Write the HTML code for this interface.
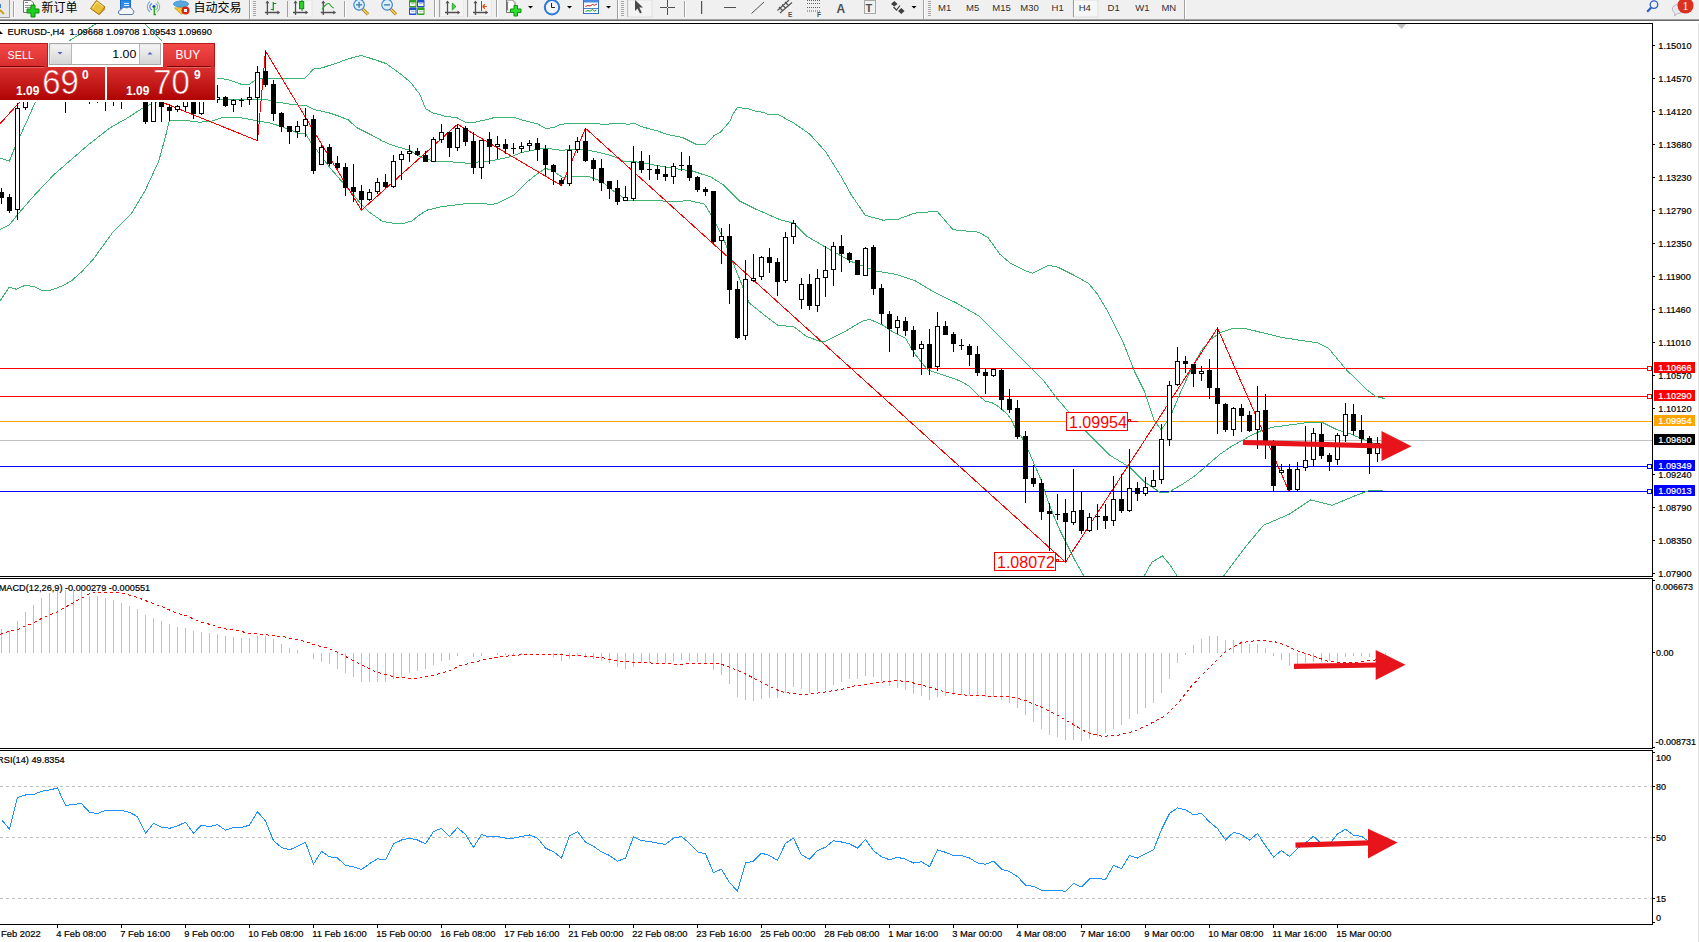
<!DOCTYPE html>
<html><head><meta charset="utf-8"><title>EURUSD-,H4</title>
<style>
html,body{margin:0;padding:0;background:#fff;}
body{width:1699px;height:942px;overflow:hidden;}
svg{display:block;}
</style></head>
<body>
<svg width="1699" height="942" viewBox="0 0 1699 942">
<defs>
<clipPath id="cmain"><rect x="0" y="24" width="1652" height="552"/></clipPath>
<clipPath id="cmacd"><rect x="0" y="579" width="1652" height="169"/></clipPath>
<clipPath id="crsi"><rect x="0" y="751" width="1652" height="173"/></clipPath>
<linearGradient id="gBtn" x1="0" y1="0" x2="0" y2="1"><stop offset="0" stop-color="#f44a4a"/><stop offset="1" stop-color="#d82c2c"/></linearGradient>
<linearGradient id="gPrice" gradientUnits="userSpaceOnUse" x1="0" y1="67" x2="0" y2="100"><stop offset="0" stop-color="#d93030"/><stop offset="1" stop-color="#b00404"/></linearGradient>
<linearGradient id="gSpin" x1="0" y1="0" x2="0" y2="1"><stop offset="0" stop-color="#f4f4f4"/><stop offset="1" stop-color="#d4d4d4"/></linearGradient>
<linearGradient id="gTb" x1="0" y1="0" x2="0" y2="1"><stop offset="0" stop-color="#f0f0f0"/><stop offset="1" stop-color="#f0f0f0"/></linearGradient>
</defs>
<rect x="0" y="0" width="1699" height="942" fill="#ffffff"/>
<g clip-path="url(#cmain)" shape-rendering="crispEdges">
<rect x="0" y="440" width="1652" height="1" fill="#c0c0c0"/>
<rect x="0" y="368" width="1647" height="1" fill="#ff0000"/>
<rect x="0" y="396" width="1647" height="1" fill="#ff0000"/>
<rect x="0" y="466" width="1647" height="1" fill="#0000ff"/>
<rect x="0" y="491" width="1647" height="1" fill="#0000ff"/>
<rect x="0" y="421" width="1652" height="1" fill="#ffa500"/>
<polyline points="0.0,158.0 9.3,161.2 15.2,146.7 21.0,133.9 28.0,118.7 35.0,102.8 50.0,75.0 69.3,40.8 100.0,21.3 142.0,21.0 161.9,40.8 190.0,62.0 216.5,78.0 227.8,79.5 241.0,84.2 249.5,84.2 256.0,79.5 265.5,78.0 305.0,78.0 313.5,69.1 322.0,67.8 337.0,63.0 348.4,58.8 361.5,55.4 374.7,59.7 386.0,63.5 399.2,72.9 410.5,82.3 420.0,94.6 425.6,108.7 433.4,113.2 438.8,114.4 445.0,116.4 456.7,117.6 465.2,122.2 473.7,122.5 484.3,120.1 494.9,117.4 514.0,117.4 522.5,120.1 537.4,123.8 545.9,128.6 553.8,127.5 560.2,124.3 572.9,123.3 589.9,123.3 603.7,124.3 621.7,123.3 628.1,124.3 634.5,123.3 640.8,126.5 656.8,130.7 667.4,134.4 682.6,137.5 696.3,144.4 705.6,144.4 714.2,135.5 720.1,132.5 723.1,129.2 730.5,120.6 732.0,115.8 737.2,107.6 741.3,107.5 742.4,108.4 747.6,108.5 755.8,111.3 764.0,112.5 768.4,114.5 778.0,114.5 793.8,123.0 809.7,134.1 825.6,151.7 841.5,177.1 851.1,194.6 865.4,215.4 882.9,220.1 897.3,219.5 914.8,213.1 937.1,211.2 953.0,229.7 978.5,232.2 988.0,237.6 1000.0,254.4 1010.8,263.5 1025.3,270.7 1032.5,273.2 1048.7,265.3 1057.8,267.1 1072.2,274.3 1088.4,283.3 1097.5,294.2 1108.3,312.2 1122.7,341.1 1134.6,371.6 1144.1,390.7 1153.7,419.4 1161.3,429.9 1170.9,415.5 1180.4,392.6 1191.9,367.8 1201.4,350.6 1211.0,339.1 1220.5,332.4 1232.0,328.6 1245.0,328.6 1252.7,330.3 1281.6,337.5 1317.7,342.9 1328.5,348.3 1346.6,370.0 1367.2,390.0 1375.6,396.4 1384.7,398.5" fill="none" stroke="#3cb371" stroke-width="1" />
<polyline points="0.0,229.7 9.3,225.0 18.7,213.3 35.0,194.6 53.7,174.8 70.0,160.7 88.8,144.4 109.8,128.0 126.2,118.7 142.5,108.2 149.5,104.7 160.0,101.0 216.5,99.3 265.5,99.3 276.8,102.1 291.9,104.4 306.9,105.9 314.5,109.6 329.5,113.0 339.0,116.2 348.4,120.0 356.4,127.4 369.2,133.8 381.9,140.8 392.1,145.2 401.0,147.8 409.9,150.3 420.0,156.7 429.0,159.9 437.6,161.5 452.5,162.0 471.6,163.6 478.0,162.0 486.4,161.5 498.1,159.4 510.9,156.7 521.5,152.5 537.4,149.3 546.4,148.2 561.2,150.3 575.0,149.3 587.8,150.1 603.7,153.5 614.3,156.7 624.9,162.0 632.4,161.2 646.2,163.6 667.4,167.3 680.0,169.4 691.8,170.8 711.0,177.1 723.7,185.1 739.6,201.0 755.5,209.0 781.0,220.1 793.8,223.3 806.5,236.0 825.6,247.2 851.1,261.5 876.6,271.1 895.7,274.3 914.8,280.6 930.7,290.2 956.2,302.9 978.5,315.7 994.4,331.6 1010.3,347.5 1029.4,366.6 1043.1,380.0 1055.8,397.0 1068.6,411.9 1081.3,426.7 1096.2,441.6 1110.0,455.4 1130.0,467.4 1144.4,482.0 1159.4,492.0 1169.0,492.0 1182.3,484.3 1193.8,476.7 1207.2,465.2 1220.5,453.8 1232.0,446.1 1247.7,437.3 1260.5,431.0 1273.2,427.1 1292.3,424.6 1311.4,422.0 1321.6,422.0 1336.9,429.7 1349.6,433.5 1361.8,438.8 1373.5,443.1 1384.0,446.0" fill="none" stroke="#3cb371" stroke-width="1" />
<polyline points="0.0,301.0 9.3,287.0 16.4,289.3 25.7,285.0 35.0,287.0 42.0,290.4 50.2,290.4 63.0,285.7 72.4,280.0 81.8,271.7 93.5,258.9 112.1,233.2 130.8,214.5 144.9,191.1 158.9,160.7 165.9,135.0 169.4,120.6 187.0,120.6 200.0,122.2 210.9,121.3 220.3,118.1 231.6,117.2 242.9,118.1 258.0,121.0 269.2,122.8 280.5,126.2 291.9,130.4 297.5,133.0 305.5,133.4 310.6,142.0 317.0,150.3 330.0,168.0 345.0,185.0 361.5,204.5 369.0,212.0 382.0,221.0 388.0,222.5 395.0,223.3 405.0,223.0 412.0,221.0 420.0,214.5 427.5,210.0 441.8,206.6 463.0,204.0 473.7,203.4 492.8,204.3 498.1,202.9 505.5,199.2 514.0,194.9 520.4,188.6 526.8,182.2 537.4,173.7 545.3,168.4 552.7,170.5 562.3,177.4 571.8,176.3 587.8,176.3 598.4,180.1 606.9,185.4 614.3,191.7 627.0,200.2 651.5,200.8 680.0,201.3 688.7,200.4 704.6,204.2 714.1,220.1 723.7,239.2 736.4,271.1 749.2,302.9 765.1,315.7 777.8,325.2 793.8,326.8 806.5,336.4 819.2,341.1 825.6,341.1 844.7,331.6 863.8,320.4 870.2,319.5 882.9,325.2 892.5,331.6 905.2,338.0 914.8,353.9 927.5,369.8 946.6,376.2 960.0,380.9 968.9,386.0 979.1,396.1 985.5,401.2 991.8,402.5 998.5,406.6 1007.0,414.0 1011.2,419.3 1015.5,428.9 1021.9,437.3 1028.2,450.1 1034.6,465.0 1041.0,479.8 1047.3,498.9 1053.7,515.9 1060.1,530.8 1066.5,543.5 1075.0,560.5 1083.5,575.4 1090.0,590.0 1135.0,590.0 1144.4,575.7 1152.0,562.0 1162.5,555.9 1170.0,565.0 1176.9,575.7 1185.0,590.0 1215.0,590.0 1223.8,575.7 1245.5,546.9 1263.5,525.2 1288.8,514.4 1310.5,500.0 1332.1,505.3 1353.8,496.3 1368.2,490.9 1382.7,490.2" fill="none" stroke="#3cb371" stroke-width="1" />
<polyline points="-20.0,146.0 57.5,60.0 257.5,140.7 265.5,51.1 361.5,210.2 457.5,124.3 561.5,185.6 585.5,128.3 1065.5,562.2 1217.5,328.0 1289.5,492.4" fill="none" stroke="#ff0000" stroke-width="1" />
<rect x="1" y="188" width="1" height="16" fill="#000"/>
<rect x="-1" y="192" width="5" height="6" fill="#000"/>
<rect x="9" y="194" width="1" height="19" fill="#000"/>
<rect x="7" y="197" width="5" height="14" fill="#000"/>
<rect x="17" y="103" width="1" height="117" fill="#000"/>
<rect x="15" y="108" width="5" height="102" fill="#000"/>
<rect x="16" y="109" width="3" height="100" fill="#fff"/>
<rect x="25" y="90" width="1" height="20" fill="#000"/>
<rect x="23" y="92" width="5" height="16" fill="#000"/>
<rect x="24" y="93" width="3" height="14" fill="#fff"/>
<rect x="33" y="60" width="1" height="35" fill="#000"/>
<rect x="31" y="70" width="5" height="20" fill="#000"/>
<rect x="41" y="60" width="1" height="35" fill="#000"/>
<rect x="39" y="70" width="5" height="20" fill="#000"/>
<rect x="40" y="71" width="3" height="18" fill="#fff"/>
<rect x="49" y="55" width="1" height="40" fill="#000"/>
<rect x="47" y="65" width="5" height="25" fill="#000"/>
<rect x="48" y="66" width="3" height="23" fill="#fff"/>
<rect x="57" y="55" width="1" height="40" fill="#000"/>
<rect x="55" y="65" width="5" height="25" fill="#000"/>
<rect x="65" y="60" width="1" height="53" fill="#000"/>
<rect x="63" y="70" width="5" height="20" fill="#000"/>
<rect x="73" y="60" width="1" height="35" fill="#000"/>
<rect x="71" y="70" width="5" height="20" fill="#000"/>
<rect x="81" y="60" width="1" height="35" fill="#000"/>
<rect x="79" y="70" width="5" height="20" fill="#000"/>
<rect x="80" y="71" width="3" height="18" fill="#fff"/>
<rect x="89" y="60" width="1" height="44" fill="#000"/>
<rect x="87" y="70" width="5" height="20" fill="#000"/>
<rect x="97" y="60" width="1" height="43" fill="#000"/>
<rect x="95" y="70" width="5" height="20" fill="#000"/>
<rect x="96" y="71" width="3" height="18" fill="#fff"/>
<rect x="105" y="60" width="1" height="51" fill="#000"/>
<rect x="103" y="70" width="5" height="20" fill="#000"/>
<rect x="113" y="60" width="1" height="46" fill="#000"/>
<rect x="111" y="70" width="5" height="20" fill="#000"/>
<rect x="121" y="60" width="1" height="49" fill="#000"/>
<rect x="119" y="70" width="5" height="20" fill="#000"/>
<rect x="120" y="71" width="3" height="18" fill="#fff"/>
<rect x="129" y="60" width="1" height="35" fill="#000"/>
<rect x="127" y="70" width="5" height="20" fill="#000"/>
<rect x="137" y="60" width="1" height="35" fill="#000"/>
<rect x="135" y="70" width="5" height="20" fill="#000"/>
<rect x="145" y="80" width="1" height="44" fill="#000"/>
<rect x="143" y="90" width="5" height="32" fill="#000"/>
<rect x="153" y="80" width="1" height="42" fill="#000"/>
<rect x="151" y="90" width="5" height="32" fill="#000"/>
<rect x="152" y="91" width="3" height="30" fill="#fff"/>
<rect x="161" y="80" width="1" height="42" fill="#000"/>
<rect x="159" y="90" width="5" height="17" fill="#000"/>
<rect x="169" y="104" width="1" height="17" fill="#000"/>
<rect x="167" y="107" width="5" height="4" fill="#000"/>
<rect x="177" y="105" width="1" height="7" fill="#000"/>
<rect x="175" y="106" width="5" height="4" fill="#000"/>
<rect x="176" y="107" width="3" height="2" fill="#fff"/>
<rect x="185" y="85" width="1" height="27" fill="#000"/>
<rect x="183" y="95" width="5" height="12" fill="#000"/>
<rect x="184" y="96" width="3" height="10" fill="#fff"/>
<rect x="193" y="85" width="1" height="34" fill="#000"/>
<rect x="191" y="92" width="5" height="22" fill="#000"/>
<rect x="201" y="85" width="1" height="30" fill="#000"/>
<rect x="199" y="92" width="5" height="22" fill="#000"/>
<rect x="200" y="93" width="3" height="20" fill="#fff"/>
<rect x="209" y="85" width="1" height="17" fill="#000"/>
<rect x="207" y="92" width="5" height="4" fill="#000"/>
<rect x="217" y="85" width="1" height="18" fill="#000"/>
<rect x="215" y="97" width="5" height="3" fill="#000"/>
<rect x="216" y="98" width="3" height="1" fill="#fff"/>
<rect x="225" y="96" width="1" height="11" fill="#000"/>
<rect x="223" y="97" width="5" height="9" fill="#000"/>
<rect x="233" y="99" width="1" height="13" fill="#000"/>
<rect x="231" y="100" width="5" height="5" fill="#000"/>
<rect x="232" y="101" width="3" height="3" fill="#fff"/>
<rect x="241" y="98" width="1" height="9" fill="#000"/>
<rect x="239" y="100" width="5" height="1" fill="#000"/>
<rect x="249" y="87" width="1" height="18" fill="#000"/>
<rect x="247" y="97" width="5" height="3" fill="#000"/>
<rect x="248" y="98" width="3" height="1" fill="#fff"/>
<rect x="257" y="66" width="1" height="75" fill="#000"/>
<rect x="255" y="72" width="5" height="26" fill="#000"/>
<rect x="256" y="73" width="3" height="24" fill="#fff"/>
<rect x="265" y="51" width="1" height="36" fill="#000"/>
<rect x="263" y="71" width="5" height="14" fill="#000"/>
<rect x="273" y="80" width="1" height="41" fill="#000"/>
<rect x="271" y="84" width="5" height="30" fill="#000"/>
<rect x="281" y="112" width="1" height="20" fill="#000"/>
<rect x="279" y="113" width="5" height="14" fill="#000"/>
<rect x="289" y="126" width="1" height="18" fill="#000"/>
<rect x="287" y="126" width="5" height="6" fill="#000"/>
<rect x="297" y="121" width="1" height="17" fill="#000"/>
<rect x="295" y="126" width="5" height="6" fill="#000"/>
<rect x="296" y="127" width="3" height="4" fill="#fff"/>
<rect x="305" y="108" width="1" height="29" fill="#000"/>
<rect x="303" y="119" width="5" height="7" fill="#000"/>
<rect x="304" y="120" width="3" height="5" fill="#fff"/>
<rect x="313" y="115" width="1" height="59" fill="#000"/>
<rect x="311" y="119" width="5" height="52" fill="#000"/>
<rect x="321" y="145" width="1" height="20" fill="#000"/>
<rect x="319" y="147" width="5" height="18" fill="#000"/>
<rect x="320" y="148" width="3" height="16" fill="#fff"/>
<rect x="329" y="144" width="1" height="22" fill="#000"/>
<rect x="327" y="147" width="5" height="17" fill="#000"/>
<rect x="337" y="156" width="1" height="13" fill="#000"/>
<rect x="335" y="163" width="5" height="5" fill="#000"/>
<rect x="345" y="163" width="1" height="33" fill="#000"/>
<rect x="343" y="167" width="5" height="21" fill="#000"/>
<rect x="353" y="164" width="1" height="38" fill="#000"/>
<rect x="351" y="187" width="5" height="5" fill="#000"/>
<rect x="361" y="185" width="1" height="25" fill="#000"/>
<rect x="359" y="191" width="5" height="9" fill="#000"/>
<rect x="369" y="189" width="1" height="12" fill="#000"/>
<rect x="367" y="192" width="5" height="8" fill="#000"/>
<rect x="368" y="193" width="3" height="6" fill="#fff"/>
<rect x="377" y="178" width="1" height="16" fill="#000"/>
<rect x="375" y="182" width="5" height="10" fill="#000"/>
<rect x="376" y="183" width="3" height="8" fill="#fff"/>
<rect x="385" y="174" width="1" height="14" fill="#000"/>
<rect x="383" y="182" width="5" height="5" fill="#000"/>
<rect x="393" y="155" width="1" height="33" fill="#000"/>
<rect x="391" y="161" width="5" height="26" fill="#000"/>
<rect x="392" y="162" width="3" height="24" fill="#fff"/>
<rect x="401" y="151" width="1" height="29" fill="#000"/>
<rect x="399" y="154" width="5" height="6" fill="#000"/>
<rect x="400" y="155" width="3" height="4" fill="#fff"/>
<rect x="409" y="145" width="1" height="17" fill="#000"/>
<rect x="407" y="151" width="5" height="3" fill="#000"/>
<rect x="408" y="152" width="3" height="1" fill="#fff"/>
<rect x="417" y="148" width="1" height="8" fill="#000"/>
<rect x="415" y="151" width="5" height="4" fill="#000"/>
<rect x="425" y="151" width="1" height="11" fill="#000"/>
<rect x="423" y="155" width="5" height="7" fill="#000"/>
<rect x="433" y="137" width="1" height="25" fill="#000"/>
<rect x="431" y="139" width="5" height="23" fill="#000"/>
<rect x="432" y="140" width="3" height="21" fill="#fff"/>
<rect x="441" y="124" width="1" height="19" fill="#000"/>
<rect x="439" y="132" width="5" height="8" fill="#000"/>
<rect x="440" y="133" width="3" height="6" fill="#fff"/>
<rect x="449" y="132" width="1" height="25" fill="#000"/>
<rect x="447" y="132" width="5" height="16" fill="#000"/>
<rect x="457" y="124" width="1" height="27" fill="#000"/>
<rect x="455" y="128" width="5" height="20" fill="#000"/>
<rect x="456" y="129" width="3" height="18" fill="#fff"/>
<rect x="465" y="126" width="1" height="20" fill="#000"/>
<rect x="463" y="128" width="5" height="14" fill="#000"/>
<rect x="473" y="132" width="1" height="42" fill="#000"/>
<rect x="471" y="141" width="5" height="27" fill="#000"/>
<rect x="481" y="140" width="1" height="39" fill="#000"/>
<rect x="479" y="140" width="5" height="28" fill="#000"/>
<rect x="480" y="141" width="3" height="26" fill="#fff"/>
<rect x="489" y="132" width="1" height="32" fill="#000"/>
<rect x="487" y="139" width="5" height="8" fill="#000"/>
<rect x="497" y="136" width="1" height="23" fill="#000"/>
<rect x="495" y="144" width="5" height="3" fill="#000"/>
<rect x="496" y="145" width="3" height="1" fill="#fff"/>
<rect x="505" y="139" width="1" height="15" fill="#000"/>
<rect x="503" y="144" width="5" height="5" fill="#000"/>
<rect x="513" y="143" width="1" height="11" fill="#000"/>
<rect x="511" y="148" width="5" height="1" fill="#000"/>
<rect x="521" y="142" width="1" height="11" fill="#000"/>
<rect x="519" y="146" width="5" height="3" fill="#000"/>
<rect x="520" y="147" width="3" height="1" fill="#fff"/>
<rect x="529" y="140" width="1" height="11" fill="#000"/>
<rect x="527" y="143" width="5" height="3" fill="#000"/>
<rect x="528" y="144" width="3" height="1" fill="#fff"/>
<rect x="537" y="138" width="1" height="23" fill="#000"/>
<rect x="535" y="143" width="5" height="7" fill="#000"/>
<rect x="545" y="145" width="1" height="31" fill="#000"/>
<rect x="543" y="149" width="5" height="16" fill="#000"/>
<rect x="553" y="164" width="1" height="21" fill="#000"/>
<rect x="551" y="165" width="5" height="7" fill="#000"/>
<rect x="561" y="178" width="1" height="8" fill="#000"/>
<rect x="559" y="180" width="5" height="4" fill="#000"/>
<rect x="569" y="145" width="1" height="41" fill="#000"/>
<rect x="567" y="150" width="5" height="34" fill="#000"/>
<rect x="568" y="151" width="3" height="32" fill="#fff"/>
<rect x="577" y="137" width="1" height="16" fill="#000"/>
<rect x="575" y="141" width="5" height="9" fill="#000"/>
<rect x="576" y="142" width="3" height="7" fill="#fff"/>
<rect x="585" y="128" width="1" height="34" fill="#000"/>
<rect x="583" y="141" width="5" height="20" fill="#000"/>
<rect x="593" y="158" width="1" height="23" fill="#000"/>
<rect x="591" y="160" width="5" height="9" fill="#000"/>
<rect x="601" y="159" width="1" height="32" fill="#000"/>
<rect x="599" y="168" width="5" height="15" fill="#000"/>
<rect x="609" y="181" width="1" height="18" fill="#000"/>
<rect x="607" y="181" width="5" height="8" fill="#000"/>
<rect x="617" y="180" width="1" height="25" fill="#000"/>
<rect x="615" y="188" width="5" height="14" fill="#000"/>
<rect x="625" y="186" width="1" height="15" fill="#000"/>
<rect x="623" y="197" width="5" height="4" fill="#000"/>
<rect x="624" y="198" width="3" height="2" fill="#fff"/>
<rect x="633" y="146" width="1" height="55" fill="#000"/>
<rect x="631" y="162" width="5" height="37" fill="#000"/>
<rect x="632" y="163" width="3" height="35" fill="#fff"/>
<rect x="641" y="151" width="1" height="22" fill="#000"/>
<rect x="639" y="161" width="5" height="9" fill="#000"/>
<rect x="649" y="155" width="1" height="25" fill="#000"/>
<rect x="647" y="169" width="5" height="1" fill="#000"/>
<rect x="657" y="165" width="1" height="15" fill="#000"/>
<rect x="655" y="169" width="5" height="5" fill="#000"/>
<rect x="665" y="166" width="1" height="15" fill="#000"/>
<rect x="663" y="174" width="5" height="3" fill="#000"/>
<rect x="673" y="163" width="1" height="21" fill="#000"/>
<rect x="671" y="166" width="5" height="11" fill="#000"/>
<rect x="672" y="167" width="3" height="9" fill="#fff"/>
<rect x="681" y="152" width="1" height="19" fill="#000"/>
<rect x="679" y="165" width="5" height="1" fill="#000"/>
<rect x="689" y="156" width="1" height="25" fill="#000"/>
<rect x="687" y="165" width="5" height="13" fill="#000"/>
<rect x="697" y="176" width="1" height="16" fill="#000"/>
<rect x="695" y="177" width="5" height="13" fill="#000"/>
<rect x="705" y="187" width="1" height="9" fill="#000"/>
<rect x="703" y="189" width="5" height="3" fill="#000"/>
<rect x="713" y="191" width="1" height="53" fill="#000"/>
<rect x="711" y="191" width="5" height="51" fill="#000"/>
<rect x="721" y="228" width="1" height="36" fill="#000"/>
<rect x="719" y="236" width="5" height="5" fill="#000"/>
<rect x="720" y="237" width="3" height="3" fill="#fff"/>
<rect x="729" y="224" width="1" height="80" fill="#000"/>
<rect x="727" y="236" width="5" height="54" fill="#000"/>
<rect x="737" y="281" width="1" height="58" fill="#000"/>
<rect x="735" y="289" width="5" height="49" fill="#000"/>
<rect x="745" y="260" width="1" height="80" fill="#000"/>
<rect x="743" y="279" width="5" height="57" fill="#000"/>
<rect x="744" y="280" width="3" height="55" fill="#fff"/>
<rect x="753" y="254" width="1" height="28" fill="#000"/>
<rect x="751" y="278" width="5" height="3" fill="#000"/>
<rect x="752" y="279" width="3" height="1" fill="#fff"/>
<rect x="761" y="256" width="1" height="24" fill="#000"/>
<rect x="759" y="257" width="5" height="20" fill="#000"/>
<rect x="760" y="258" width="3" height="18" fill="#fff"/>
<rect x="769" y="248" width="1" height="25" fill="#000"/>
<rect x="767" y="257" width="5" height="6" fill="#000"/>
<rect x="777" y="258" width="1" height="38" fill="#000"/>
<rect x="775" y="262" width="5" height="20" fill="#000"/>
<rect x="785" y="232" width="1" height="51" fill="#000"/>
<rect x="783" y="237" width="5" height="44" fill="#000"/>
<rect x="784" y="238" width="3" height="42" fill="#fff"/>
<rect x="793" y="220" width="1" height="24" fill="#000"/>
<rect x="791" y="223" width="5" height="14" fill="#000"/>
<rect x="792" y="224" width="3" height="12" fill="#fff"/>
<rect x="801" y="278" width="1" height="31" fill="#000"/>
<rect x="799" y="284" width="5" height="16" fill="#000"/>
<rect x="800" y="285" width="3" height="14" fill="#fff"/>
<rect x="809" y="274" width="1" height="36" fill="#000"/>
<rect x="807" y="284" width="5" height="22" fill="#000"/>
<rect x="817" y="269" width="1" height="43" fill="#000"/>
<rect x="815" y="278" width="5" height="28" fill="#000"/>
<rect x="816" y="279" width="3" height="26" fill="#fff"/>
<rect x="825" y="246" width="1" height="51" fill="#000"/>
<rect x="823" y="270" width="5" height="8" fill="#000"/>
<rect x="824" y="271" width="3" height="6" fill="#fff"/>
<rect x="833" y="242" width="1" height="44" fill="#000"/>
<rect x="831" y="246" width="5" height="24" fill="#000"/>
<rect x="832" y="247" width="3" height="22" fill="#fff"/>
<rect x="841" y="235" width="1" height="37" fill="#000"/>
<rect x="839" y="246" width="5" height="8" fill="#000"/>
<rect x="849" y="252" width="1" height="11" fill="#000"/>
<rect x="847" y="253" width="5" height="7" fill="#000"/>
<rect x="857" y="260" width="1" height="15" fill="#000"/>
<rect x="855" y="260" width="5" height="15" fill="#000"/>
<rect x="865" y="247" width="1" height="29" fill="#000"/>
<rect x="863" y="248" width="5" height="28" fill="#000"/>
<rect x="864" y="249" width="3" height="26" fill="#fff"/>
<rect x="873" y="245" width="1" height="50" fill="#000"/>
<rect x="871" y="247" width="5" height="42" fill="#000"/>
<rect x="881" y="284" width="1" height="40" fill="#000"/>
<rect x="879" y="288" width="5" height="26" fill="#000"/>
<rect x="889" y="311" width="1" height="41" fill="#000"/>
<rect x="887" y="314" width="5" height="15" fill="#000"/>
<rect x="897" y="316" width="1" height="18" fill="#000"/>
<rect x="895" y="320" width="5" height="8" fill="#000"/>
<rect x="896" y="321" width="3" height="6" fill="#fff"/>
<rect x="905" y="317" width="1" height="19" fill="#000"/>
<rect x="903" y="321" width="5" height="10" fill="#000"/>
<rect x="913" y="326" width="1" height="31" fill="#000"/>
<rect x="911" y="330" width="5" height="20" fill="#000"/>
<rect x="921" y="341" width="1" height="34" fill="#000"/>
<rect x="919" y="344" width="5" height="5" fill="#000"/>
<rect x="920" y="345" width="3" height="3" fill="#fff"/>
<rect x="929" y="329" width="1" height="46" fill="#000"/>
<rect x="927" y="344" width="5" height="24" fill="#000"/>
<rect x="937" y="312" width="1" height="59" fill="#000"/>
<rect x="935" y="326" width="5" height="41" fill="#000"/>
<rect x="936" y="327" width="3" height="39" fill="#fff"/>
<rect x="945" y="321" width="1" height="14" fill="#000"/>
<rect x="943" y="326" width="5" height="9" fill="#000"/>
<rect x="953" y="332" width="1" height="20" fill="#000"/>
<rect x="951" y="334" width="5" height="10" fill="#000"/>
<rect x="961" y="339" width="1" height="11" fill="#000"/>
<rect x="959" y="345" width="5" height="1" fill="#000"/>
<rect x="969" y="344" width="1" height="22" fill="#000"/>
<rect x="967" y="346" width="5" height="9" fill="#000"/>
<rect x="977" y="346" width="1" height="30" fill="#000"/>
<rect x="975" y="354" width="5" height="19" fill="#000"/>
<rect x="985" y="368" width="1" height="26" fill="#000"/>
<rect x="983" y="372" width="5" height="4" fill="#000"/>
<rect x="993" y="368" width="1" height="9" fill="#000"/>
<rect x="991" y="369" width="5" height="7" fill="#000"/>
<rect x="992" y="370" width="3" height="5" fill="#fff"/>
<rect x="1001" y="368" width="1" height="42" fill="#000"/>
<rect x="999" y="370" width="5" height="30" fill="#000"/>
<rect x="1009" y="389" width="1" height="24" fill="#000"/>
<rect x="1007" y="399" width="5" height="11" fill="#000"/>
<rect x="1017" y="400" width="1" height="39" fill="#000"/>
<rect x="1015" y="408" width="5" height="29" fill="#000"/>
<rect x="1025" y="431" width="1" height="72" fill="#000"/>
<rect x="1023" y="436" width="5" height="43" fill="#000"/>
<rect x="1033" y="465" width="1" height="22" fill="#000"/>
<rect x="1031" y="478" width="5" height="6" fill="#000"/>
<rect x="1041" y="479" width="1" height="41" fill="#000"/>
<rect x="1039" y="483" width="5" height="29" fill="#000"/>
<rect x="1049" y="503" width="1" height="48" fill="#000"/>
<rect x="1047" y="511" width="5" height="3" fill="#000"/>
<rect x="1057" y="494" width="1" height="26" fill="#000"/>
<rect x="1055" y="514" width="5" height="1" fill="#000"/>
<rect x="1065" y="499" width="1" height="63" fill="#000"/>
<rect x="1063" y="513" width="5" height="9" fill="#000"/>
<rect x="1073" y="469" width="1" height="56" fill="#000"/>
<rect x="1071" y="511" width="5" height="12" fill="#000"/>
<rect x="1072" y="512" width="3" height="10" fill="#fff"/>
<rect x="1081" y="492" width="1" height="42" fill="#000"/>
<rect x="1079" y="510" width="5" height="21" fill="#000"/>
<rect x="1089" y="513" width="1" height="19" fill="#000"/>
<rect x="1087" y="517" width="5" height="14" fill="#000"/>
<rect x="1088" y="518" width="3" height="12" fill="#fff"/>
<rect x="1097" y="504" width="1" height="26" fill="#000"/>
<rect x="1095" y="516" width="5" height="1" fill="#000"/>
<rect x="1105" y="504" width="1" height="25" fill="#000"/>
<rect x="1103" y="516" width="5" height="5" fill="#000"/>
<rect x="1113" y="476" width="1" height="50" fill="#000"/>
<rect x="1111" y="499" width="5" height="22" fill="#000"/>
<rect x="1112" y="500" width="3" height="20" fill="#fff"/>
<rect x="1121" y="474" width="1" height="39" fill="#000"/>
<rect x="1119" y="499" width="5" height="12" fill="#000"/>
<rect x="1129" y="449" width="1" height="63" fill="#000"/>
<rect x="1127" y="488" width="5" height="23" fill="#000"/>
<rect x="1128" y="489" width="3" height="21" fill="#fff"/>
<rect x="1137" y="482" width="1" height="19" fill="#000"/>
<rect x="1135" y="488" width="5" height="6" fill="#000"/>
<rect x="1145" y="477" width="1" height="19" fill="#000"/>
<rect x="1143" y="487" width="5" height="7" fill="#000"/>
<rect x="1144" y="488" width="3" height="5" fill="#fff"/>
<rect x="1153" y="470" width="1" height="17" fill="#000"/>
<rect x="1151" y="480" width="5" height="7" fill="#000"/>
<rect x="1152" y="481" width="3" height="5" fill="#fff"/>
<rect x="1161" y="424" width="1" height="60" fill="#000"/>
<rect x="1159" y="439" width="5" height="41" fill="#000"/>
<rect x="1160" y="440" width="3" height="39" fill="#fff"/>
<rect x="1169" y="381" width="1" height="65" fill="#000"/>
<rect x="1167" y="385" width="5" height="55" fill="#000"/>
<rect x="1168" y="386" width="3" height="53" fill="#fff"/>
<rect x="1177" y="347" width="1" height="39" fill="#000"/>
<rect x="1175" y="361" width="5" height="24" fill="#000"/>
<rect x="1176" y="362" width="3" height="22" fill="#fff"/>
<rect x="1185" y="356" width="1" height="17" fill="#000"/>
<rect x="1183" y="361" width="5" height="3" fill="#000"/>
<rect x="1193" y="364" width="1" height="23" fill="#000"/>
<rect x="1191" y="364" width="5" height="10" fill="#000"/>
<rect x="1201" y="366" width="1" height="15" fill="#000"/>
<rect x="1199" y="371" width="5" height="3" fill="#000"/>
<rect x="1200" y="372" width="3" height="1" fill="#fff"/>
<rect x="1209" y="359" width="1" height="40" fill="#000"/>
<rect x="1207" y="370" width="5" height="18" fill="#000"/>
<rect x="1217" y="328" width="1" height="106" fill="#000"/>
<rect x="1215" y="388" width="5" height="16" fill="#000"/>
<rect x="1225" y="403" width="1" height="29" fill="#000"/>
<rect x="1223" y="404" width="5" height="26" fill="#000"/>
<rect x="1233" y="407" width="1" height="29" fill="#000"/>
<rect x="1231" y="408" width="5" height="22" fill="#000"/>
<rect x="1232" y="409" width="3" height="20" fill="#fff"/>
<rect x="1241" y="404" width="1" height="28" fill="#000"/>
<rect x="1239" y="408" width="5" height="8" fill="#000"/>
<rect x="1249" y="411" width="1" height="21" fill="#000"/>
<rect x="1247" y="415" width="5" height="16" fill="#000"/>
<rect x="1257" y="386" width="1" height="63" fill="#000"/>
<rect x="1255" y="411" width="5" height="19" fill="#000"/>
<rect x="1256" y="412" width="3" height="17" fill="#fff"/>
<rect x="1265" y="394" width="1" height="65" fill="#000"/>
<rect x="1263" y="410" width="5" height="33" fill="#000"/>
<rect x="1273" y="440" width="1" height="52" fill="#000"/>
<rect x="1271" y="443" width="5" height="43" fill="#000"/>
<rect x="1281" y="464" width="1" height="10" fill="#000"/>
<rect x="1279" y="470" width="5" height="3" fill="#000"/>
<rect x="1280" y="471" width="3" height="1" fill="#fff"/>
<rect x="1289" y="464" width="1" height="28" fill="#000"/>
<rect x="1287" y="469" width="5" height="21" fill="#000"/>
<rect x="1297" y="462" width="1" height="29" fill="#000"/>
<rect x="1295" y="469" width="5" height="21" fill="#000"/>
<rect x="1296" y="470" width="3" height="19" fill="#fff"/>
<rect x="1305" y="426" width="1" height="45" fill="#000"/>
<rect x="1303" y="460" width="5" height="8" fill="#000"/>
<rect x="1304" y="461" width="3" height="6" fill="#fff"/>
<rect x="1313" y="428" width="1" height="39" fill="#000"/>
<rect x="1311" y="433" width="5" height="27" fill="#000"/>
<rect x="1312" y="434" width="3" height="25" fill="#fff"/>
<rect x="1321" y="423" width="1" height="36" fill="#000"/>
<rect x="1319" y="434" width="5" height="22" fill="#000"/>
<rect x="1329" y="453" width="1" height="18" fill="#000"/>
<rect x="1327" y="455" width="5" height="7" fill="#000"/>
<rect x="1337" y="433" width="1" height="32" fill="#000"/>
<rect x="1335" y="435" width="5" height="25" fill="#000"/>
<rect x="1336" y="436" width="3" height="23" fill="#fff"/>
<rect x="1345" y="403" width="1" height="39" fill="#000"/>
<rect x="1343" y="414" width="5" height="22" fill="#000"/>
<rect x="1344" y="415" width="3" height="20" fill="#fff"/>
<rect x="1353" y="404" width="1" height="31" fill="#000"/>
<rect x="1351" y="414" width="5" height="17" fill="#000"/>
<rect x="1361" y="415" width="1" height="28" fill="#000"/>
<rect x="1359" y="430" width="5" height="9" fill="#000"/>
<rect x="1369" y="436" width="1" height="38" fill="#000"/>
<rect x="1367" y="438" width="5" height="16" fill="#000"/>
<rect x="1377" y="437" width="1" height="25" fill="#000"/>
<rect x="1375" y="443" width="5" height="11" fill="#000"/>
<rect x="1376" y="444" width="3" height="9" fill="#fff"/>
<rect x="1385" y="440" width="1" height="12" fill="#000"/>
<rect x="1383" y="442" width="5" height="4" fill="#000"/>
<rect x="1384" y="443" width="3" height="2" fill="#fff"/>
<rect x="1647.5" y="366.5" width="4" height="4" fill="#fff" stroke="#ff0000" stroke-width="1"/>
<rect x="1647.5" y="394.5" width="4" height="4" fill="#fff" stroke="#ff0000" stroke-width="1"/>
<rect x="1647.5" y="464.5" width="4" height="4" fill="#fff" stroke="#0000ff" stroke-width="1"/>
<rect x="1647.5" y="489.5" width="4" height="4" fill="#fff" stroke="#0000ff" stroke-width="1"/>
</g>
<g shape-rendering="crispEdges"><rect x="1066.5" y="412.5" width="61" height="18" fill="#fff" stroke="#ff0000" stroke-width="1"/>
<rect x="1128.5" y="419.5" width="2" height="2" fill="#fff" stroke="#ff0000" stroke-width="1"/>
<rect x="1131" y="421" width="7" height="1" fill="#ff0000"/>
<rect x="994.5" y="552.5" width="61" height="18" fill="#fff" stroke="#ff0000" stroke-width="1"/>
<rect x="1056.5" y="559.5" width="2" height="2" fill="#fff" stroke="#ff0000" stroke-width="1"/>
<rect x="1059" y="561" width="5" height="1" fill="#ff0000"/></g>
<text x="1069" y="427.5" font-family="'Liberation Sans', Arial, sans-serif" font-size="16" fill="#ff0000">1.09954</text>
<text x="997" y="567.5" font-family="'Liberation Sans', Arial, sans-serif" font-size="16" fill="#ff0000">1.08072</text>
<polygon points="1397,24 1406,24 1401.5,29" fill="#c0c0c0"/>
<g clip-path="url(#cmacd)" shape-rendering="crispEdges">
<rect x="1" y="629" width="1" height="24" fill="#c0c0c0"/>
<rect x="9" y="631" width="1" height="22" fill="#c0c0c0"/>
<rect x="17" y="621" width="1" height="32" fill="#c0c0c0"/>
<rect x="25" y="612" width="1" height="41" fill="#c0c0c0"/>
<rect x="33" y="605" width="1" height="48" fill="#c0c0c0"/>
<rect x="41" y="598" width="1" height="55" fill="#c0c0c0"/>
<rect x="49" y="593" width="1" height="60" fill="#c0c0c0"/>
<rect x="57" y="591" width="1" height="62" fill="#c0c0c0"/>
<rect x="65" y="590" width="1" height="63" fill="#c0c0c0"/>
<rect x="73" y="589" width="1" height="64" fill="#c0c0c0"/>
<rect x="81" y="590" width="1" height="63" fill="#c0c0c0"/>
<rect x="89" y="596" width="1" height="57" fill="#c0c0c0"/>
<rect x="97" y="596" width="1" height="57" fill="#c0c0c0"/>
<rect x="105" y="598" width="1" height="55" fill="#c0c0c0"/>
<rect x="113" y="600" width="1" height="53" fill="#c0c0c0"/>
<rect x="121" y="603" width="1" height="50" fill="#c0c0c0"/>
<rect x="129" y="606" width="1" height="47" fill="#c0c0c0"/>
<rect x="137" y="609" width="1" height="44" fill="#c0c0c0"/>
<rect x="145" y="615" width="1" height="38" fill="#c0c0c0"/>
<rect x="153" y="618" width="1" height="35" fill="#c0c0c0"/>
<rect x="161" y="621" width="1" height="32" fill="#c0c0c0"/>
<rect x="169" y="624" width="1" height="29" fill="#c0c0c0"/>
<rect x="177" y="627" width="1" height="26" fill="#c0c0c0"/>
<rect x="185" y="628" width="1" height="25" fill="#c0c0c0"/>
<rect x="193" y="631" width="1" height="22" fill="#c0c0c0"/>
<rect x="201" y="632" width="1" height="21" fill="#c0c0c0"/>
<rect x="209" y="633" width="1" height="20" fill="#c0c0c0"/>
<rect x="217" y="634" width="1" height="19" fill="#c0c0c0"/>
<rect x="225" y="636" width="1" height="17" fill="#c0c0c0"/>
<rect x="233" y="637" width="1" height="16" fill="#c0c0c0"/>
<rect x="241" y="638" width="1" height="15" fill="#c0c0c0"/>
<rect x="249" y="638" width="1" height="15" fill="#c0c0c0"/>
<rect x="257" y="636" width="1" height="17" fill="#c0c0c0"/>
<rect x="265" y="636" width="1" height="17" fill="#c0c0c0"/>
<rect x="273" y="639" width="1" height="14" fill="#c0c0c0"/>
<rect x="281" y="644" width="1" height="9" fill="#c0c0c0"/>
<rect x="289" y="648" width="1" height="5" fill="#c0c0c0"/>
<rect x="297" y="650" width="1" height="3" fill="#c0c0c0"/>
<rect x="313" y="653" width="1" height="6" fill="#c0c0c0"/>
<rect x="321" y="653" width="1" height="9" fill="#c0c0c0"/>
<rect x="329" y="653" width="1" height="11" fill="#c0c0c0"/>
<rect x="337" y="653" width="1" height="16" fill="#c0c0c0"/>
<rect x="345" y="653" width="1" height="20" fill="#c0c0c0"/>
<rect x="353" y="653" width="1" height="24" fill="#c0c0c0"/>
<rect x="361" y="653" width="1" height="29" fill="#c0c0c0"/>
<rect x="369" y="653" width="1" height="29" fill="#c0c0c0"/>
<rect x="377" y="653" width="1" height="29" fill="#c0c0c0"/>
<rect x="385" y="653" width="1" height="29" fill="#c0c0c0"/>
<rect x="393" y="653" width="1" height="26" fill="#c0c0c0"/>
<rect x="401" y="653" width="1" height="24" fill="#c0c0c0"/>
<rect x="409" y="653" width="1" height="20" fill="#c0c0c0"/>
<rect x="417" y="653" width="1" height="18" fill="#c0c0c0"/>
<rect x="425" y="653" width="1" height="16" fill="#c0c0c0"/>
<rect x="433" y="653" width="1" height="12" fill="#c0c0c0"/>
<rect x="441" y="653" width="1" height="8" fill="#c0c0c0"/>
<rect x="449" y="653" width="1" height="7" fill="#c0c0c0"/>
<rect x="457" y="653" width="1" height="3" fill="#c0c0c0"/>
<rect x="473" y="653" width="1" height="4" fill="#c0c0c0"/>
<rect x="481" y="653" width="1" height="3" fill="#c0c0c0"/>
<rect x="497" y="653" width="1" height="2" fill="#c0c0c0"/>
<rect x="505" y="653" width="1" height="2" fill="#c0c0c0"/>
<rect x="513" y="653" width="1" height="2" fill="#c0c0c0"/>
<rect x="521" y="653" width="1" height="2" fill="#c0c0c0"/>
<rect x="553" y="653" width="1" height="4" fill="#c0c0c0"/>
<rect x="561" y="653" width="1" height="8" fill="#c0c0c0"/>
<rect x="569" y="653" width="1" height="6" fill="#c0c0c0"/>
<rect x="577" y="653" width="1" height="3" fill="#c0c0c0"/>
<rect x="585" y="653" width="1" height="5" fill="#c0c0c0"/>
<rect x="593" y="653" width="1" height="6" fill="#c0c0c0"/>
<rect x="601" y="653" width="1" height="8" fill="#c0c0c0"/>
<rect x="609" y="653" width="1" height="10" fill="#c0c0c0"/>
<rect x="617" y="653" width="1" height="14" fill="#c0c0c0"/>
<rect x="625" y="653" width="1" height="16" fill="#c0c0c0"/>
<rect x="633" y="653" width="1" height="14" fill="#c0c0c0"/>
<rect x="641" y="653" width="1" height="10" fill="#c0c0c0"/>
<rect x="649" y="653" width="1" height="10" fill="#c0c0c0"/>
<rect x="657" y="653" width="1" height="10" fill="#c0c0c0"/>
<rect x="665" y="653" width="1" height="10" fill="#c0c0c0"/>
<rect x="673" y="653" width="1" height="9" fill="#c0c0c0"/>
<rect x="681" y="653" width="1" height="7" fill="#c0c0c0"/>
<rect x="689" y="653" width="1" height="8" fill="#c0c0c0"/>
<rect x="697" y="653" width="1" height="9" fill="#c0c0c0"/>
<rect x="705" y="653" width="1" height="10" fill="#c0c0c0"/>
<rect x="713" y="653" width="1" height="17" fill="#c0c0c0"/>
<rect x="721" y="653" width="1" height="22" fill="#c0c0c0"/>
<rect x="729" y="653" width="1" height="31" fill="#c0c0c0"/>
<rect x="737" y="653" width="1" height="44" fill="#c0c0c0"/>
<rect x="745" y="653" width="1" height="47" fill="#c0c0c0"/>
<rect x="753" y="653" width="1" height="48" fill="#c0c0c0"/>
<rect x="761" y="653" width="1" height="46" fill="#c0c0c0"/>
<rect x="769" y="653" width="1" height="45" fill="#c0c0c0"/>
<rect x="777" y="653" width="1" height="45" fill="#c0c0c0"/>
<rect x="785" y="653" width="1" height="40" fill="#c0c0c0"/>
<rect x="793" y="653" width="1" height="34" fill="#c0c0c0"/>
<rect x="801" y="653" width="1" height="36" fill="#c0c0c0"/>
<rect x="809" y="653" width="1" height="40" fill="#c0c0c0"/>
<rect x="817" y="653" width="1" height="38" fill="#c0c0c0"/>
<rect x="825" y="653" width="1" height="37" fill="#c0c0c0"/>
<rect x="833" y="653" width="1" height="32" fill="#c0c0c0"/>
<rect x="841" y="653" width="1" height="29" fill="#c0c0c0"/>
<rect x="849" y="653" width="1" height="26" fill="#c0c0c0"/>
<rect x="857" y="653" width="1" height="26" fill="#c0c0c0"/>
<rect x="865" y="653" width="1" height="23" fill="#c0c0c0"/>
<rect x="873" y="653" width="1" height="24" fill="#c0c0c0"/>
<rect x="881" y="653" width="1" height="28" fill="#c0c0c0"/>
<rect x="889" y="653" width="1" height="33" fill="#c0c0c0"/>
<rect x="897" y="653" width="1" height="35" fill="#c0c0c0"/>
<rect x="905" y="653" width="1" height="37" fill="#c0c0c0"/>
<rect x="913" y="653" width="1" height="41" fill="#c0c0c0"/>
<rect x="921" y="653" width="1" height="43" fill="#c0c0c0"/>
<rect x="929" y="653" width="1" height="47" fill="#c0c0c0"/>
<rect x="937" y="653" width="1" height="44" fill="#c0c0c0"/>
<rect x="945" y="653" width="1" height="43" fill="#c0c0c0"/>
<rect x="953" y="653" width="1" height="42" fill="#c0c0c0"/>
<rect x="961" y="653" width="1" height="42" fill="#c0c0c0"/>
<rect x="969" y="653" width="1" height="42" fill="#c0c0c0"/>
<rect x="977" y="653" width="1" height="43" fill="#c0c0c0"/>
<rect x="985" y="653" width="1" height="44" fill="#c0c0c0"/>
<rect x="993" y="653" width="1" height="44" fill="#c0c0c0"/>
<rect x="1001" y="653" width="1" height="47" fill="#c0c0c0"/>
<rect x="1009" y="653" width="1" height="50" fill="#c0c0c0"/>
<rect x="1017" y="653" width="1" height="55" fill="#c0c0c0"/>
<rect x="1025" y="653" width="1" height="62" fill="#c0c0c0"/>
<rect x="1033" y="653" width="1" height="69" fill="#c0c0c0"/>
<rect x="1041" y="653" width="1" height="76" fill="#c0c0c0"/>
<rect x="1049" y="653" width="1" height="82" fill="#c0c0c0"/>
<rect x="1057" y="653" width="1" height="84" fill="#c0c0c0"/>
<rect x="1065" y="653" width="1" height="87" fill="#c0c0c0"/>
<rect x="1073" y="653" width="1" height="87" fill="#c0c0c0"/>
<rect x="1081" y="653" width="1" height="88" fill="#c0c0c0"/>
<rect x="1089" y="653" width="1" height="86" fill="#c0c0c0"/>
<rect x="1097" y="653" width="1" height="84" fill="#c0c0c0"/>
<rect x="1105" y="653" width="1" height="80" fill="#c0c0c0"/>
<rect x="1113" y="653" width="1" height="76" fill="#c0c0c0"/>
<rect x="1121" y="653" width="1" height="72" fill="#c0c0c0"/>
<rect x="1129" y="653" width="1" height="66" fill="#c0c0c0"/>
<rect x="1137" y="653" width="1" height="61" fill="#c0c0c0"/>
<rect x="1145" y="653" width="1" height="55" fill="#c0c0c0"/>
<rect x="1153" y="653" width="1" height="50" fill="#c0c0c0"/>
<rect x="1161" y="653" width="1" height="40" fill="#c0c0c0"/>
<rect x="1169" y="653" width="1" height="26" fill="#c0c0c0"/>
<rect x="1177" y="653" width="1" height="10" fill="#c0c0c0"/>
<rect x="1185" y="653" width="1" height="2" fill="#c0c0c0"/>
<rect x="1193" y="645" width="1" height="8" fill="#c0c0c0"/>
<rect x="1201" y="639" width="1" height="14" fill="#c0c0c0"/>
<rect x="1209" y="636" width="1" height="17" fill="#c0c0c0"/>
<rect x="1217" y="636" width="1" height="17" fill="#c0c0c0"/>
<rect x="1225" y="640" width="1" height="13" fill="#c0c0c0"/>
<rect x="1233" y="640" width="1" height="13" fill="#c0c0c0"/>
<rect x="1241" y="641" width="1" height="12" fill="#c0c0c0"/>
<rect x="1249" y="644" width="1" height="9" fill="#c0c0c0"/>
<rect x="1257" y="644" width="1" height="9" fill="#c0c0c0"/>
<rect x="1265" y="648" width="1" height="5" fill="#c0c0c0"/>
<rect x="1273" y="653" width="1" height="3" fill="#c0c0c0"/>
<rect x="1281" y="653" width="1" height="7" fill="#c0c0c0"/>
<rect x="1289" y="653" width="1" height="13" fill="#c0c0c0"/>
<rect x="1297" y="653" width="1" height="11" fill="#c0c0c0"/>
<rect x="1305" y="653" width="1" height="10" fill="#c0c0c0"/>
<rect x="1313" y="653" width="1" height="9" fill="#c0c0c0"/>
<rect x="1321" y="653" width="1" height="9" fill="#c0c0c0"/>
<rect x="1329" y="653" width="1" height="8" fill="#c0c0c0"/>
<rect x="1337" y="653" width="1" height="9" fill="#c0c0c0"/>
<rect x="1345" y="653" width="1" height="4" fill="#c0c0c0"/>
<rect x="1353" y="653" width="1" height="3" fill="#c0c0c0"/>
<rect x="1361" y="653" width="1" height="3" fill="#c0c0c0"/>
<rect x="1369" y="653" width="1" height="4" fill="#c0c0c0"/>
<rect x="1377" y="653" width="1" height="3" fill="#c0c0c0"/>
<rect x="1385" y="653" width="1" height="2" fill="#c0c0c0"/>
</g>
<g clip-path="url(#cmacd)">
<polyline points="0.0,634.4 9.9,631.2 17.3,629.9 24.7,626.2 32.1,623.7 40.8,618.8 49.4,615.1 58.1,611.4 66.7,606.4 74.2,602.2 81.6,598.3 90.2,593.3 98.9,592.3 116.2,592.3 126.1,594.1 138.4,597.8 150.8,602.7 163.2,607.2 175.5,612.6 187.9,616.3 200.2,622.0 212.6,625.0 222.5,628.7 234.9,629.9 247.2,632.9 262.0,634.4 271.9,635.4 284.3,636.8 296.7,639.8 306.5,641.8 314.0,644.7 328.8,648.5 338.7,652.7 351.1,659.6 363.4,665.8 375.8,672.0 385.7,674.4 395.6,677.4 407.9,678.1 419.9,678.1 434.7,674.9 449.6,670.7 459.4,665.8 474.3,662.1 489.1,658.3 508.9,655.9 523.7,654.6 543.5,654.1 558.3,654.6 583.1,655.9 602.8,657.6 615.2,660.8 632.5,662.1 657.2,663.3 681.9,664.5 689.4,663.3 719.0,663.3 728.9,667.0 741.3,671.9 756.1,679.4 770.9,686.8 780.8,691.7 800.6,694.7 817.9,693.0 830.0,691.2 844.7,688.8 852.1,686.3 869.4,683.8 894.2,680.6 906.5,681.3 918.9,684.3 936.2,689.2 948.6,693.0 968.3,695.4 993.1,696.2 1012.8,697.2 1025.2,700.4 1042.5,707.8 1057.3,715.2 1072.2,723.9 1087.0,732.5 1101.8,736.2 1116.7,735.7 1134.0,731.3 1146.3,725.8 1166.1,715.2 1178.5,702.8 1190.8,686.8 1203.5,673.6 1216.1,661.0 1225.1,652.0 1234.1,646.6 1241.3,642.6 1252.2,641.1 1261.2,640.2 1273.8,641.5 1284.6,644.8 1295.5,650.2 1306.3,653.8 1317.1,657.4 1327.9,661.3 1337.0,662.4 1351.4,662.8 1360.4,661.9 1373.0,660.1 1385.0,659.5" fill="none" stroke="#ff0000" stroke-width="1" stroke-dasharray="3,3" shape-rendering="crispEdges"/>
</g>
<g clip-path="url(#crsi)" shape-rendering="crispEdges">
<line x1="0" y1="786.5" x2="1652" y2="786.5" stroke="#c0c0c0" stroke-width="1" stroke-dasharray="3,3"/>
<line x1="0" y1="837.5" x2="1652" y2="837.5" stroke="#c0c0c0" stroke-width="1" stroke-dasharray="3,3"/>
<line x1="0" y1="898.5" x2="1652" y2="898.5" stroke="#c0c0c0" stroke-width="1" stroke-dasharray="3,3"/>
<polyline points="1.5,819.7 9.5,829.1 17.5,797.4 25.5,795.0 33.5,794.5 41.5,791.3 49.5,790.0 57.5,788.0 65.5,805.4 73.5,804.4 81.5,803.6 89.5,812.3 97.5,813.5 105.5,810.3 113.5,810.3 121.5,810.3 129.5,812.3 137.5,816.7 145.5,833.3 153.5,823.4 161.5,827.1 169.5,828.3 177.5,825.9 185.5,822.2 193.5,833.3 201.5,825.1 209.5,826.6 217.5,824.6 225.5,830.3 233.5,827.6 241.5,827.6 249.5,825.1 257.5,811.8 265.5,820.9 273.5,840.7 281.5,847.4 289.5,849.9 297.5,846.4 305.5,842.4 313.5,864.2 321.5,851.3 329.5,856.8 337.5,858.0 345.5,865.4 353.5,866.7 361.5,869.6 369.5,863.7 377.5,858.8 385.5,859.7 393.5,843.9 401.5,840.0 409.5,838.2 417.5,840.0 425.5,843.9 433.5,831.6 441.5,828.3 449.5,836.5 457.5,827.6 465.5,834.5 473.5,847.4 481.5,834.5 489.5,837.0 497.5,836.5 505.5,838.2 513.5,838.2 521.5,836.5 529.5,835.0 537.5,838.2 545.5,848.1 553.5,851.8 561.5,858.0 569.5,835.8 577.5,831.6 585.5,842.0 593.5,846.4 601.5,851.8 609.5,855.5 617.5,861.2 625.5,858.0 633.5,837.0 641.5,840.7 649.5,841.4 657.5,843.2 665.5,844.4 673.5,838.2 681.5,836.5 689.5,843.2 697.5,851.8 705.5,853.8 713.5,872.8 721.5,869.1 729.5,882.7 737.5,890.9 745.5,863.0 753.5,861.2 761.5,853.1 769.5,855.5 777.5,860.5 785.5,843.2 793.5,838.2 801.5,854.8 809.5,859.2 817.5,850.6 825.5,847.2 833.5,840.7 841.5,842.0 849.5,843.9 857.5,848.1 865.5,839.5 873.5,850.6 881.5,856.8 889.5,859.7 897.5,857.3 905.5,859.2 913.5,863.0 921.5,861.7 929.5,866.7 937.5,849.9 945.5,852.3 953.5,855.5 961.5,855.5 969.5,858.0 977.5,863.0 985.5,864.2 993.5,861.2 1001.5,869.1 1009.5,871.6 1017.5,876.6 1025.5,885.2 1033.5,886.4 1041.5,890.2 1049.5,890.2 1057.5,890.2 1065.5,891.4 1073.5,883.5 1081.5,886.9 1089.5,879.0 1097.5,878.5 1105.5,879.5 1113.5,865.4 1121.5,868.6 1129.5,855.5 1137.5,858.0 1145.5,853.8 1153.5,849.9 1161.5,829.6 1169.5,813.5 1177.5,807.8 1185.5,809.8 1193.5,814.7 1201.5,813.4 1209.5,822.0 1217.5,828.5 1225.5,840.0 1233.5,832.3 1241.5,834.5 1249.5,840.1 1257.5,833.5 1265.5,845.7 1273.5,857.0 1281.5,850.4 1289.5,856.6 1297.5,848.5 1305.5,842.9 1313.5,836.3 1321.5,843.8 1329.5,843.8 1337.5,834.1 1345.5,829.2 1353.5,835.4 1361.5,836.3 1369.5,842.0 1377.5,838.0 1385.5,837.8" fill="none" stroke="#1e90ff" stroke-width="1" />
</g>
<line x1="1243" y1="442.5" x2="1383" y2="446" stroke="#e8141c" stroke-width="5.2"/>
<polygon points="1381.5,431 1381.5,461 1411.5,446.3" fill="#e8141c"/>
<line x1="1294" y1="666.3" x2="1377" y2="665" stroke="#e8141c" stroke-width="5.2"/>
<polygon points="1375.7,650 1375.7,680 1405.5,664.8" fill="#e8141c"/>
<line x1="1295.5" y1="845.2" x2="1369" y2="842.8" stroke="#e8141c" stroke-width="5.2"/>
<polygon points="1368,828.8 1368,858.5 1397.6,842.5" fill="#e8141c"/>
<g shape-rendering="crispEdges">
<rect x="0" y="23" width="1653" height="1" fill="#000"/>
<rect x="0" y="576" width="1653" height="1" fill="#000"/>
<rect x="0" y="578" width="1653" height="1" fill="#000"/>
<rect x="0" y="748" width="1653" height="1" fill="#000"/>
<rect x="0" y="750" width="1653" height="1" fill="#000"/>
<rect x="0" y="924" width="1653" height="1" fill="#000"/>
<rect x="1652" y="23" width="1" height="554" fill="#000"/>
<rect x="1652" y="578" width="1" height="171" fill="#000"/>
<rect x="1652" y="750" width="1" height="175" fill="#000"/>
<rect x="1698" y="21" width="1" height="921" fill="#e3e3e3"/>
</g>
<rect x="1653" y="45" width="2" height="1" fill="#000" shape-rendering="crispEdges"/>
<text x="1658.3" y="49.0" font-family="'Liberation Sans', Arial, sans-serif" font-size="9.2" fill="#000" stroke="#000" stroke-width="0.2">1.15010</text>
<rect x="1653" y="78" width="2" height="1" fill="#000" shape-rendering="crispEdges"/>
<text x="1658.3" y="82.0" font-family="'Liberation Sans', Arial, sans-serif" font-size="9.2" fill="#000" stroke="#000" stroke-width="0.2">1.14570</text>
<rect x="1653" y="111" width="2" height="1" fill="#000" shape-rendering="crispEdges"/>
<text x="1658.3" y="115.0" font-family="'Liberation Sans', Arial, sans-serif" font-size="9.2" fill="#000" stroke="#000" stroke-width="0.2">1.14120</text>
<rect x="1653" y="144" width="2" height="1" fill="#000" shape-rendering="crispEdges"/>
<text x="1658.3" y="148.0" font-family="'Liberation Sans', Arial, sans-serif" font-size="9.2" fill="#000" stroke="#000" stroke-width="0.2">1.13680</text>
<rect x="1653" y="177" width="2" height="1" fill="#000" shape-rendering="crispEdges"/>
<text x="1658.3" y="181.0" font-family="'Liberation Sans', Arial, sans-serif" font-size="9.2" fill="#000" stroke="#000" stroke-width="0.2">1.13230</text>
<rect x="1653" y="210" width="2" height="1" fill="#000" shape-rendering="crispEdges"/>
<text x="1658.3" y="214.0" font-family="'Liberation Sans', Arial, sans-serif" font-size="9.2" fill="#000" stroke="#000" stroke-width="0.2">1.12790</text>
<rect x="1653" y="243" width="2" height="1" fill="#000" shape-rendering="crispEdges"/>
<text x="1658.3" y="247.0" font-family="'Liberation Sans', Arial, sans-serif" font-size="9.2" fill="#000" stroke="#000" stroke-width="0.2">1.12350</text>
<rect x="1653" y="276" width="2" height="1" fill="#000" shape-rendering="crispEdges"/>
<text x="1658.3" y="280.0" font-family="'Liberation Sans', Arial, sans-serif" font-size="9.2" fill="#000" stroke="#000" stroke-width="0.2">1.11900</text>
<rect x="1653" y="309" width="2" height="1" fill="#000" shape-rendering="crispEdges"/>
<text x="1658.3" y="313.0" font-family="'Liberation Sans', Arial, sans-serif" font-size="9.2" fill="#000" stroke="#000" stroke-width="0.2">1.11460</text>
<rect x="1653" y="342" width="2" height="1" fill="#000" shape-rendering="crispEdges"/>
<text x="1658.3" y="346.0" font-family="'Liberation Sans', Arial, sans-serif" font-size="9.2" fill="#000" stroke="#000" stroke-width="0.2">1.11010</text>
<rect x="1653" y="375" width="2" height="1" fill="#000" shape-rendering="crispEdges"/>
<text x="1658.3" y="379.0" font-family="'Liberation Sans', Arial, sans-serif" font-size="9.2" fill="#000" stroke="#000" stroke-width="0.2">1.10570</text>
<rect x="1653" y="408" width="2" height="1" fill="#000" shape-rendering="crispEdges"/>
<text x="1658.3" y="412.0" font-family="'Liberation Sans', Arial, sans-serif" font-size="9.2" fill="#000" stroke="#000" stroke-width="0.2">1.10120</text>
<rect x="1653" y="474" width="2" height="1" fill="#000" shape-rendering="crispEdges"/>
<text x="1658.3" y="478.0" font-family="'Liberation Sans', Arial, sans-serif" font-size="9.2" fill="#000" stroke="#000" stroke-width="0.2">1.09240</text>
<rect x="1653" y="507" width="2" height="1" fill="#000" shape-rendering="crispEdges"/>
<text x="1658.3" y="511.0" font-family="'Liberation Sans', Arial, sans-serif" font-size="9.2" fill="#000" stroke="#000" stroke-width="0.2">1.08790</text>
<rect x="1653" y="540" width="2" height="1" fill="#000" shape-rendering="crispEdges"/>
<text x="1658.3" y="544.0" font-family="'Liberation Sans', Arial, sans-serif" font-size="9.2" fill="#000" stroke="#000" stroke-width="0.2">1.08350</text>
<rect x="1653" y="573" width="2" height="1" fill="#000" shape-rendering="crispEdges"/>
<text x="1658.3" y="577.0" font-family="'Liberation Sans', Arial, sans-serif" font-size="9.2" fill="#000" stroke="#000" stroke-width="0.2">1.07900</text>
<rect x="1654" y="362" width="41" height="11" fill="#ff0000" shape-rendering="crispEdges"/>
<text x="1658.3" y="370.9" font-family="'Liberation Sans', Arial, sans-serif" font-size="9.2" fill="#fff" stroke="#fff" stroke-width="0.2">1.10666</text>
<rect x="1654" y="390" width="41" height="11" fill="#ff0000" shape-rendering="crispEdges"/>
<text x="1658.3" y="398.9" font-family="'Liberation Sans', Arial, sans-serif" font-size="9.2" fill="#fff" stroke="#fff" stroke-width="0.2">1.10290</text>
<rect x="1654" y="415" width="41" height="11" fill="#ffa500" shape-rendering="crispEdges"/>
<text x="1658.3" y="423.9" font-family="'Liberation Sans', Arial, sans-serif" font-size="9.2" fill="#fff" stroke="#fff" stroke-width="0.2">1.09954</text>
<rect x="1654" y="434" width="41" height="11" fill="#000000" shape-rendering="crispEdges"/>
<text x="1658.3" y="442.9" font-family="'Liberation Sans', Arial, sans-serif" font-size="9.2" fill="#fff" stroke="#fff" stroke-width="0.2">1.09690</text>
<rect x="1654" y="460" width="41" height="11" fill="#0000ff" shape-rendering="crispEdges"/>
<text x="1658.3" y="468.9" font-family="'Liberation Sans', Arial, sans-serif" font-size="9.2" fill="#fff" stroke="#fff" stroke-width="0.2">1.09349</text>
<rect x="1654" y="485" width="41" height="11" fill="#0000ff" shape-rendering="crispEdges"/>
<text x="1658.3" y="493.9" font-family="'Liberation Sans', Arial, sans-serif" font-size="9.2" fill="#fff" stroke="#fff" stroke-width="0.2">1.09013</text>
<rect x="1653" y="580" width="2" height="1" fill="#000"/>
<text x="1655.5" y="589.5" font-family="'Liberation Sans', Arial, sans-serif" font-size="9" fill="#000" stroke="#000" stroke-width="0.2">0.006673</text>
<rect x="1653" y="652" width="2" height="1" fill="#000"/>
<text x="1656" y="655.6" font-family="'Liberation Sans', Arial, sans-serif" font-size="9" fill="#000" stroke="#000" stroke-width="0.2">0.00</text>
<rect x="1653" y="747" width="2" height="1" fill="#000"/>
<text x="1655.5" y="745" font-family="'Liberation Sans', Arial, sans-serif" font-size="9" fill="#000" stroke="#000" stroke-width="0.2">-0.008731</text>
<rect x="1653" y="752" width="2" height="1" fill="#000"/>
<text x="1656" y="760.6" font-family="'Liberation Sans', Arial, sans-serif" font-size="9" fill="#000" stroke="#000" stroke-width="0.2">100</text>
<rect x="1653" y="786" width="2" height="1" fill="#000"/>
<text x="1656" y="789.6" font-family="'Liberation Sans', Arial, sans-serif" font-size="9" fill="#000" stroke="#000" stroke-width="0.2">80</text>
<rect x="1653" y="837" width="2" height="1" fill="#000"/>
<text x="1656" y="840.6" font-family="'Liberation Sans', Arial, sans-serif" font-size="9" fill="#000" stroke="#000" stroke-width="0.2">50</text>
<rect x="1653" y="898" width="2" height="1" fill="#000"/>
<text x="1656" y="901.6" font-family="'Liberation Sans', Arial, sans-serif" font-size="9" fill="#000" stroke="#000" stroke-width="0.2">15</text>
<rect x="1653" y="922" width="2" height="1" fill="#000"/>
<text x="1656" y="920.6" font-family="'Liberation Sans', Arial, sans-serif" font-size="9" fill="#000" stroke="#000" stroke-width="0.2">0</text>
<text x="1" y="936.5" font-family="'Liberation Sans', Arial, sans-serif" font-size="9.4" fill="#000" stroke="#000" stroke-width="0.2">Feb 2022</text>
<rect x="57" y="925" width="1" height="3" fill="#000"/>
<text x="56.2" y="936.5" font-family="'Liberation Sans', Arial, sans-serif" font-size="9.4" fill="#000" stroke="#000" stroke-width="0.2">4 Feb 08:00</text>
<rect x="121" y="925" width="1" height="3" fill="#000"/>
<text x="120.2" y="936.5" font-family="'Liberation Sans', Arial, sans-serif" font-size="9.4" fill="#000" stroke="#000" stroke-width="0.2">7 Feb 16:00</text>
<rect x="185" y="925" width="1" height="3" fill="#000"/>
<text x="184.2" y="936.5" font-family="'Liberation Sans', Arial, sans-serif" font-size="9.4" fill="#000" stroke="#000" stroke-width="0.2">9 Feb 00:00</text>
<rect x="249" y="925" width="1" height="3" fill="#000"/>
<text x="248.2" y="936.5" font-family="'Liberation Sans', Arial, sans-serif" font-size="9.4" fill="#000" stroke="#000" stroke-width="0.2">10 Feb 08:00</text>
<rect x="313" y="925" width="1" height="3" fill="#000"/>
<text x="312.2" y="936.5" font-family="'Liberation Sans', Arial, sans-serif" font-size="9.4" fill="#000" stroke="#000" stroke-width="0.2">11 Feb 16:00</text>
<rect x="377" y="925" width="1" height="3" fill="#000"/>
<text x="376.2" y="936.5" font-family="'Liberation Sans', Arial, sans-serif" font-size="9.4" fill="#000" stroke="#000" stroke-width="0.2">15 Feb 00:00</text>
<rect x="441" y="925" width="1" height="3" fill="#000"/>
<text x="440.2" y="936.5" font-family="'Liberation Sans', Arial, sans-serif" font-size="9.4" fill="#000" stroke="#000" stroke-width="0.2">16 Feb 08:00</text>
<rect x="505" y="925" width="1" height="3" fill="#000"/>
<text x="504.2" y="936.5" font-family="'Liberation Sans', Arial, sans-serif" font-size="9.4" fill="#000" stroke="#000" stroke-width="0.2">17 Feb 16:00</text>
<rect x="569" y="925" width="1" height="3" fill="#000"/>
<text x="568.2" y="936.5" font-family="'Liberation Sans', Arial, sans-serif" font-size="9.4" fill="#000" stroke="#000" stroke-width="0.2">21 Feb 00:00</text>
<rect x="633" y="925" width="1" height="3" fill="#000"/>
<text x="632.2" y="936.5" font-family="'Liberation Sans', Arial, sans-serif" font-size="9.4" fill="#000" stroke="#000" stroke-width="0.2">22 Feb 08:00</text>
<rect x="697" y="925" width="1" height="3" fill="#000"/>
<text x="696.2" y="936.5" font-family="'Liberation Sans', Arial, sans-serif" font-size="9.4" fill="#000" stroke="#000" stroke-width="0.2">23 Feb 16:00</text>
<rect x="761" y="925" width="1" height="3" fill="#000"/>
<text x="760.2" y="936.5" font-family="'Liberation Sans', Arial, sans-serif" font-size="9.4" fill="#000" stroke="#000" stroke-width="0.2">25 Feb 00:00</text>
<rect x="825" y="925" width="1" height="3" fill="#000"/>
<text x="824.2" y="936.5" font-family="'Liberation Sans', Arial, sans-serif" font-size="9.4" fill="#000" stroke="#000" stroke-width="0.2">28 Feb 08:00</text>
<rect x="889" y="925" width="1" height="3" fill="#000"/>
<text x="888.2" y="936.5" font-family="'Liberation Sans', Arial, sans-serif" font-size="9.4" fill="#000" stroke="#000" stroke-width="0.2">1 Mar 16:00</text>
<rect x="953" y="925" width="1" height="3" fill="#000"/>
<text x="952.2" y="936.5" font-family="'Liberation Sans', Arial, sans-serif" font-size="9.4" fill="#000" stroke="#000" stroke-width="0.2">3 Mar 00:00</text>
<rect x="1017" y="925" width="1" height="3" fill="#000"/>
<text x="1016.2" y="936.5" font-family="'Liberation Sans', Arial, sans-serif" font-size="9.4" fill="#000" stroke="#000" stroke-width="0.2">4 Mar 08:00</text>
<rect x="1081" y="925" width="1" height="3" fill="#000"/>
<text x="1080.2" y="936.5" font-family="'Liberation Sans', Arial, sans-serif" font-size="9.4" fill="#000" stroke="#000" stroke-width="0.2">7 Mar 16:00</text>
<rect x="1145" y="925" width="1" height="3" fill="#000"/>
<text x="1144.2" y="936.5" font-family="'Liberation Sans', Arial, sans-serif" font-size="9.4" fill="#000" stroke="#000" stroke-width="0.2">9 Mar 00:00</text>
<rect x="1209" y="925" width="1" height="3" fill="#000"/>
<text x="1208.2" y="936.5" font-family="'Liberation Sans', Arial, sans-serif" font-size="9.4" fill="#000" stroke="#000" stroke-width="0.2">10 Mar 08:00</text>
<rect x="1273" y="925" width="1" height="3" fill="#000"/>
<text x="1272.2" y="936.5" font-family="'Liberation Sans', Arial, sans-serif" font-size="9.4" fill="#000" stroke="#000" stroke-width="0.2">11 Mar 16:00</text>
<rect x="1337" y="925" width="1" height="3" fill="#000"/>
<text x="1336.2" y="936.5" font-family="'Liberation Sans', Arial, sans-serif" font-size="9.4" fill="#000" stroke="#000" stroke-width="0.2">15 Mar 00:00</text>
<text x="-1.3" y="590.5" font-family="'Liberation Sans', Arial, sans-serif" font-size="9.2" textLength="151.5" lengthAdjust="spacingAndGlyphs" fill="#000" stroke="#000" stroke-width="0.2">MACD(12,26,9) -0.000279 -0.000551</text>
<text x="-2.9" y="763" font-family="'Liberation Sans', Arial, sans-serif" font-size="9.2" textLength="67.6" lengthAdjust="spacingAndGlyphs" fill="#000" stroke="#000" stroke-width="0.2">RSI(14) 49.8354</text>
<polygon points="0,31 3,34 0,34" fill="#000"/>
<text x="7.6" y="35" font-family="'Liberation Sans', Arial, sans-serif" font-size="9.2" textLength="204.3" lengthAdjust="spacingAndGlyphs" fill="#000" stroke="#000" stroke-width="0.2" xml:space="preserve">EURUSD-,H4  1.09668 1.09708 1.09543 1.09690</text>
<g>
<rect x="0" y="41" width="217" height="61" fill="#fff"/>
<rect x="0" y="43" width="48" height="24" fill="url(#gBtn)"/>
<rect x="0" y="43" width="48" height="1" fill="#b81c1c"/>
<rect x="47" y="43" width="1" height="24" fill="#b81c1c"/>
<rect x="0" y="66" width="44" height="1" fill="#7a0000"/>
<rect x="0" y="67" width="44" height="1" fill="#f07070"/>
<rect x="163" y="43" width="52" height="24" fill="url(#gBtn)"/>
<rect x="163" y="43" width="52" height="1" fill="#b81c1c"/>
<rect x="214" y="43" width="1" height="57" fill="#b01010"/>
<rect x="167" y="66" width="44" height="1" fill="#7a0000"/>
<rect x="167" y="67" width="44" height="1" fill="#f07070"/>
<rect x="0" y="67" width="105" height="33" fill="url(#gPrice)"/>
<rect x="107" y="67" width="108" height="33" fill="url(#gPrice)"/>
<rect x="0" y="66" width="44" height="1" fill="#7a0000"/>
<rect x="0" y="67" width="44" height="1" fill="#e86060"/>
<rect x="167" y="66" width="44" height="1" fill="#7a0000"/>
<rect x="167" y="67" width="44" height="1" fill="#e86060"/>
<rect x="48" y="42" width="115" height="25" fill="#fff"/>
<rect x="49.5" y="43.5" width="111" height="21" fill="#e8e8e8" stroke="#a8a8a8" stroke-width="1"/>
<rect x="51" y="45" width="20" height="19" fill="url(#gSpin)"/>
<rect x="72" y="44" width="67" height="20" fill="#fff"/>
<rect x="140" y="45" width="20" height="19" fill="url(#gSpin)"/>
<rect x="71" y="44" width="1" height="20" fill="#b8b8b8"/>
<rect x="139" y="44" width="1" height="20" fill="#b8b8b8"/>
<polygon points="57.5,52 62.5,52 60,54.5" fill="#5060c0"/>
<polygon points="147.5,54.5 152.5,54.5 150,52" fill="#5060c0"/>
<text x="112.3" y="58" font-family="'Liberation Sans', Arial, sans-serif" font-size="11.5" textLength="24" lengthAdjust="spacingAndGlyphs" fill="#000">1.00</text>
<text x="7.6" y="59" font-family="'Liberation Sans', Arial, sans-serif" font-size="11.8" textLength="26.5" lengthAdjust="spacingAndGlyphs" fill="#fff">SELL</text>
<text x="175.5" y="59" font-family="'Liberation Sans', Arial, sans-serif" font-size="12" fill="#fff">BUY</text>
<text x="16" y="95" font-family="'Liberation Sans', Arial, sans-serif" font-size="12" font-weight="bold" fill="#fff">1.09</text>
<text x="42.3" y="94.3" font-family="'Liberation Sans', Arial, sans-serif" font-size="35" textLength="36.6" lengthAdjust="spacingAndGlyphs" fill="#fff" stroke="url(#gPrice)" stroke-width="0.6">69</text>
<text x="82" y="79" font-family="'Liberation Sans', Arial, sans-serif" font-size="12" font-weight="bold" fill="#fff">0</text>
<text x="126" y="95" font-family="'Liberation Sans', Arial, sans-serif" font-size="12" font-weight="bold" fill="#fff">1.09</text>
<text x="153.3" y="94.3" font-family="'Liberation Sans', Arial, sans-serif" font-size="35" textLength="36.6" lengthAdjust="spacingAndGlyphs" fill="#fff" stroke="url(#gPrice)" stroke-width="0.6">70</text>
<text x="194" y="79" font-family="'Liberation Sans', Arial, sans-serif" font-size="12" font-weight="bold" fill="#fff">9</text>
</g>
<rect x="0" y="0" width="1699" height="19" fill="#f0f0f0"/>
<rect x="0" y="19" width="1699" height="1" fill="#a0a0a0"/>
<rect x="0" y="20" width="1699" height="1" fill="#6a6a6a"/>
<rect x="0" y="21" width="1699" height="2" fill="#ffffff"/>
<rect x="0" y="0" width="9" height="17" fill="#e8e8e8"/>
<rect x="9" y="0" width="1" height="18" fill="#a0a0a0"/>
<rect x="0" y="17" width="9" height="1" fill="#a0a0a0"/>
<line x1="0" y1="10" x2="4" y2="14" stroke="#d0a020" stroke-width="2"/>
<rect x="0" y="4" width="1" height="4" fill="#4080d0"/>
<rect x="13" y="1" width="1" height="16" fill="#a0a0a0"/>
<rect x="14" y="1" width="1" height="16" fill="#ffffff"/>
<path d="M23.5,0.5 H31 L33.5,3 V12.5 H23.5 Z" fill="#fff" stroke="#707070" stroke-width="1"/>
<rect x="25" y="2" width="3" height="1" fill="#808080"/><rect x="25" y="5" width="6" height="1" fill="#909090"/><rect x="25" y="7" width="6" height="1" fill="#909090"/>
<path d="M31,5 h4 v4 h4 v4 h-4 v4 h-4 v-4 h-4 v-4 h4 z" fill="#1ed01e" stroke="#0a8a0a" stroke-width="1"/>
<text x="41.5" y="12" font-family="'Noto Sans CJK SC', 'WenQuanYi Zen Hei', sans-serif" font-size="12" fill="#000">新订单</text>
<path d="M90.5,8.5 L96.5,0.5 L105,7 L99,14.5 Z" fill="#e8c038" stroke="#a86a08" stroke-width="1"/>
<path d="M92.5,8 L97,2 L103,6.5" fill="none" stroke="#f8e890" stroke-width="1"/>
<path d="M99,14.5 L105,8.5" fill="none" stroke="#c08820" stroke-width="1.2"/>
<path d="M120.5,0 H130.5 V9 H120.5 Z" fill="#2a90f0" stroke="#1a68c8" stroke-width="1"/>
<rect x="124" y="3" width="5" height="1" fill="#d8ecff"/><rect x="124" y="5" width="5" height="1" fill="#d8ecff"/>
<path d="M120,14.5 H132 A2.6,2.6 0 0 0 132.3,9.6 A3.4,3.4 0 0 0 126.8,8 A4,4 0 0 0 120.8,10 A2.3,2.3 0 0 0 120,14.5 Z" fill="#f4f6fa" stroke="#5878a8" stroke-width="1"/>
<path d="M150,12 A6.5,6.5 0 0 1 150,1.5" fill="none" stroke="#7ea4dc" stroke-width="1.1"/>
<path d="M152,10 A3.5,3.5 0 0 1 152,3.5" fill="none" stroke="#4a7ed0" stroke-width="1.1"/>
<path d="M157,1.5 A6.5,6.5 0 0 1 157,12" fill="none" stroke="#90c090" stroke-width="1.1"/>
<path d="M155.5,3.5 A3.5,3.5 0 0 1 155.5,10" fill="none" stroke="#80b0d8" stroke-width="1.1"/>
<circle cx="154" cy="6.5" r="1.6" fill="#1a4ab8"/>
<path d="M154.3,7 V14.5 H156" fill="none" stroke="#20a020" stroke-width="1.3"/>
<path d="M174.5,8 L181.5,14.5 L188,7 Z" fill="#f0c830" stroke="#c89820" stroke-width="0.8"/>
<ellipse cx="181" cy="4" rx="7.5" ry="3" fill="#58a8e0" stroke="#3a88c8" stroke-width="0.8"/>
<path d="M178.5,3 L180.5,-1 L182.5,3 Z" fill="#58a8e0"/>
<circle cx="185.5" cy="10.5" r="4" fill="#d82818"/><rect x="184" y="9" width="3" height="3" fill="#fff"/>
<text x="193.5" y="12" font-family="'Noto Sans CJK SC', 'WenQuanYi Zen Hei', sans-serif" font-size="12" fill="#000">自动交易</text>
<rect x="249" y="0" width="1" height="19" fill="#a0a0a0"/>
<rect x="250" y="0" width="1" height="19" fill="#ffffff"/>
<rect x="253" y="1" width="3" height="1" fill="#a8a8a8"/>
<rect x="253" y="3" width="3" height="1" fill="#a8a8a8"/>
<rect x="253" y="5" width="3" height="1" fill="#a8a8a8"/>
<rect x="253" y="7" width="3" height="1" fill="#a8a8a8"/>
<rect x="253" y="9" width="3" height="1" fill="#a8a8a8"/>
<rect x="253" y="11" width="3" height="1" fill="#a8a8a8"/>
<rect x="253" y="13" width="3" height="1" fill="#a8a8a8"/>
<rect x="253" y="15" width="3" height="1" fill="#a8a8a8"/>
<path d="M267.4,2 V15 M264.9,12.5 H277.9" fill="none" stroke="#505050" stroke-width="1.3"/>
<path d="M265.4,3.2 L269.4,3.2 L267.4,0.6 Z M277.4,10.5 L277.4,14.5 L280.2,12.5 Z" fill="#505050"/>
<path d="M273.3,2 V10.5 M273.3,3.5 H276.3 M270.8,9.5 H273.3" fill="none" stroke="#109010" stroke-width="1.2"/>
<rect x="287" y="1" width="1" height="16" fill="#a0a0a0"/>
<rect x="288" y="1" width="1" height="16" fill="#ffffff"/>
<rect x="289" y="0" width="23" height="17" fill="#f4f4f4" stroke="#e4e4e4" stroke-width="1"/>
<path d="M295.5,2 V15 M293.0,12.5 H306.0" fill="none" stroke="#505050" stroke-width="1.3"/>
<path d="M293.5,3.2 L297.5,3.2 L295.5,0.6 Z M305.5,10.5 L305.5,14.5 L308.3,12.5 Z" fill="#505050"/>
<rect x="301.5" y="0" width="1" height="11" fill="#109010"/><rect x="299.5" y="1.5" width="4.2" height="7.2" fill="#30d030" stroke="#109010" stroke-width="1"/>
<path d="M323.3,2 V15 M320.8,12.5 H333.8" fill="none" stroke="#505050" stroke-width="1.3"/>
<path d="M321.3,3.2 L325.3,3.2 L323.3,0.6 Z M333.3,10.5 L333.3,14.5 L336.1,12.5 Z" fill="#505050"/>
<path d="M322,9.5 Q327.5,1 330,4.5 T334,8" fill="none" stroke="#30a030" stroke-width="1.1"/>
<rect x="344" y="1" width="1" height="16" fill="#a0a0a0"/>
<rect x="345" y="1" width="1" height="16" fill="#ffffff"/>
<line x1="362.6" y1="9" x2="368.1" y2="14.3" stroke="#a07010" stroke-width="3"/>
<line x1="362.6" y1="9" x2="368.1" y2="14.3" stroke="#f0d850" stroke-width="1.6"/>
<circle cx="359.1" cy="4.8" r="5.3" fill="#dcf0fc" stroke="#3a7cc8" stroke-width="1.1"/>
<rect x="356.1" y="4.1" width="6" height="1.5" fill="#4a88b0"/>
<rect x="358.35" y="1.8" width="1.5" height="6" fill="#4a88b0"/>
<line x1="390.6" y1="9" x2="396.1" y2="14.3" stroke="#a07010" stroke-width="3"/>
<line x1="390.6" y1="9" x2="396.1" y2="14.3" stroke="#f0d850" stroke-width="1.6"/>
<circle cx="387.1" cy="4.8" r="5.3" fill="#dcf0fc" stroke="#3a7cc8" stroke-width="1.1"/>
<rect x="384.1" y="4.1" width="6" height="1.5" fill="#4a88b0"/>
<rect x="409" y="0" width="7.5" height="7.5" rx="0.8" fill="#30a020"/>
<rect x="410" y="2.5" width="5.5" height="3.5" fill="#f4f8f4"/>
<rect x="411" y="3.3" width="3.5" height="0.8" fill="#30a020" opacity="0.5"/>
<rect x="417" y="0" width="7.5" height="7.5" rx="0.8" fill="#2050d0"/>
<rect x="418" y="2.5" width="5.5" height="3.5" fill="#f4f8f4"/>
<rect x="419" y="3.3" width="3.5" height="0.8" fill="#2050d0" opacity="0.5"/>
<rect x="409" y="7.5" width="7.5" height="7.5" rx="0.8" fill="#2050d0"/>
<rect x="410" y="10.0" width="5.5" height="3.5" fill="#f4f8f4"/>
<rect x="411" y="10.8" width="3.5" height="0.8" fill="#2050d0" opacity="0.5"/>
<rect x="417" y="7.5" width="7.5" height="7.5" rx="0.8" fill="#30a020"/>
<rect x="418" y="10.0" width="5.5" height="3.5" fill="#f4f8f4"/>
<rect x="419" y="10.8" width="3.5" height="0.8" fill="#30a020" opacity="0.5"/>
<rect x="434" y="0" width="1" height="17" fill="#a0a0a0"/>
<rect x="435" y="0" width="1" height="17" fill="#ffffff"/>
<rect x="439" y="0" width="1" height="17" fill="#a0a0a0"/>
<rect x="440" y="0" width="1" height="17" fill="#ffffff"/>
<rect x="440.5" y="-0.5" width="23" height="17" fill="#f4f4f4" stroke="#e8e8e8" stroke-width="1"/>
<path d="M447.5,2 V15 M445.0,12.5 H458.0" fill="none" stroke="#505050" stroke-width="1.3"/>
<path d="M445.5,3.2 L449.5,3.2 L447.5,0.6 Z M457.5,10.5 L457.5,14.5 L460.3,12.5 Z" fill="#505050"/>
<polygon points="452.3,3 452.3,10 456,6.5" fill="#50d050" stroke="#10a010" stroke-width="0.8"/>
<rect x="467" y="0" width="1" height="17" fill="#a0a0a0"/>
<rect x="468" y="0" width="1" height="17" fill="#ffffff"/>
<rect x="468.5" y="-0.5" width="23" height="17" fill="#f4f4f4" stroke="#e8e8e8" stroke-width="1"/>
<path d="M475.5,2 V15 M473.0,12.5 H486.0" fill="none" stroke="#505050" stroke-width="1.3"/>
<path d="M473.5,3.2 L477.5,3.2 L475.5,0.6 Z M485.5,10.5 L485.5,14.5 L488.3,12.5 Z" fill="#505050"/>
<rect x="481" y="1" width="1" height="10" fill="#1870b0"/><path d="M482.5,6.5 H487 M482.5,6.5 L485,4.3 M482.5,6.5 L485,8.7" stroke="#e05010" stroke-width="1.2" fill="none"/>
<rect x="496" y="0" width="1" height="17" fill="#a0a0a0"/>
<rect x="497" y="0" width="1" height="17" fill="#ffffff"/>
<path d="M506.5,0 V12.5 H515 V2.5 L512.5,0 Z" fill="#fff" stroke="#707070" stroke-width="1"/>
<path d="M508.5,2 h-1 v8 h1" fill="none" stroke="#606060" stroke-width="0.8"/>
<path d="M514,5.5 h3.5 v3.5 h3.5 v3.5 h-3.5 v3.5 h-3.5 v-3.5 h-3.5 v-3.5 h3.5 z" fill="#30e030" stroke="#109010" stroke-width="1"/>
<polygon points="528.0,6 533.0,6 530.5,8.5" fill="#000"/>
<circle cx="552" cy="7.3" r="7.2" fill="#f4f8fc" stroke="#2a78d8" stroke-width="2"/>
<path d="M551.5,3 V7.5 H555" stroke="#202020" stroke-width="1" fill="none"/>
<circle cx="552" cy="7.3" r="5" fill="none" stroke="#b0b8c0" stroke-width="0.6" stroke-dasharray="0.8,1.8"/>
<polygon points="567.0,6 572.0,6 569.5,8.5" fill="#000"/>
<rect x="583.5" y="0.5" width="15" height="13" fill="#fff" stroke="#3070c8" stroke-width="1"/>
<rect x="584" y="0" width="14" height="2.5" fill="#4a88e0"/>
<rect x="584" y="8" width="14" height="1" fill="#5080c8"/>
<path d="M585.5,6.5 L588,5.5 L590,6 L592.5,4.5 L594.5,5.3 L597,4" stroke="#c02010" stroke-width="1" fill="none"/>
<path d="M585.5,11.5 L588,10.5 L590,11.2 L592.5,9.5 L594.5,11 L596.5,10" stroke="#10a010" stroke-width="1" fill="none"/>
<polygon points="606.0,6 611.0,6 608.5,8.5" fill="#000"/>
<rect x="617" y="0" width="1" height="19" fill="#a0a0a0"/>
<rect x="618" y="0" width="1" height="19" fill="#ffffff"/>
<rect x="621" y="1" width="3" height="1" fill="#a8a8a8"/>
<rect x="621" y="3" width="3" height="1" fill="#a8a8a8"/>
<rect x="621" y="5" width="3" height="1" fill="#a8a8a8"/>
<rect x="621" y="7" width="3" height="1" fill="#a8a8a8"/>
<rect x="621" y="9" width="3" height="1" fill="#a8a8a8"/>
<rect x="621" y="11" width="3" height="1" fill="#a8a8a8"/>
<rect x="621" y="13" width="3" height="1" fill="#a8a8a8"/>
<rect x="621" y="15" width="3" height="1" fill="#a8a8a8"/>
<rect x="627" y="0" width="1" height="17" fill="#a0a0a0"/>
<rect x="628" y="0" width="1" height="17" fill="#ffffff"/>
<rect x="628" y="0" width="24" height="17" fill="#f4f4f4" stroke="#e0e0e0" stroke-width="1"/>
<path d="M635,0 L635,11 L637.5,8.5 L640,13.5 L641.8,12.5 L639.3,7.5 L643,7.5 Z" fill="#484848"/>
<rect x="660" y="7" width="15" height="1" fill="#505050"/><rect x="667" y="0" width="1" height="15" fill="#505050"/><rect x="667" y="7" width="1" height="1" fill="#f0f0f0"/>
<rect x="684" y="1" width="1" height="16" fill="#a0a0a0"/>
<rect x="685" y="1" width="1" height="16" fill="#ffffff"/>
<rect x="701" y="1" width="1.2" height="13" fill="#505050"/>
<rect x="724" y="7" width="12" height="1" fill="#505050"/>
<line x1="751.5" y1="13.5" x2="764" y2="2" stroke="#505050" stroke-width="1"/>
<path d="M777.5,10.5 L789,0 M780,13 L792,2.5 M779,7 L783,11 M782,4.5 L786,8.5 M785,2 L789,6" stroke="#505050" stroke-width="1.1" fill="none"/>
<text x="788" y="16.5" font-family="'Liberation Sans', Arial, sans-serif" font-size="6.5" font-weight="bold" fill="#505050">E</text>
<line x1="807" y1="0.5" x2="820" y2="0.5" stroke="#606060" stroke-width="1" stroke-dasharray="1,1"/>
<line x1="807" y1="3.5" x2="820" y2="3.5" stroke="#606060" stroke-width="1" stroke-dasharray="1,1"/>
<line x1="807" y1="7.5" x2="820" y2="7.5" stroke="#606060" stroke-width="1" stroke-dasharray="1,1"/>
<line x1="807" y1="11" x2="820" y2="11" stroke="#606060" stroke-width="1" stroke-dasharray="1,1"/>
<text x="817" y="16.5" font-family="'Liberation Sans', Arial, sans-serif" font-size="6.5" font-weight="bold" fill="#505050">F</text>
<text x="836.5" y="13" font-family="'Liberation Sans', Arial, sans-serif" font-size="12" font-weight="bold" fill="#505050">A</text>
<rect x="864.5" y="0.5" width="11" height="13" fill="none" stroke="#606060" stroke-width="1" stroke-dasharray="1,1"/>
<text x="865.5" y="12" font-family="'Liberation Sans', Arial, sans-serif" font-size="11" font-weight="bold" fill="#505050">T</text>
<path d="M891,4 L894.3,1 L897.6,4 L894.3,6.5 Z M898,11 L901.3,8 L904.6,11 L901.3,14 Z" fill="#404040"/><path d="M893.5,7 L896.5,10 L900,5.5" stroke="#404040" stroke-width="1.2" fill="none"/>
<polygon points="911.5,6 916.5,6 914,8.5" fill="#000"/>
<rect x="923" y="0" width="1" height="19" fill="#a0a0a0"/>
<rect x="924" y="0" width="1" height="19" fill="#ffffff"/>
<rect x="928" y="1" width="3" height="1" fill="#a8a8a8"/>
<rect x="928" y="3" width="3" height="1" fill="#a8a8a8"/>
<rect x="928" y="5" width="3" height="1" fill="#a8a8a8"/>
<rect x="928" y="7" width="3" height="1" fill="#a8a8a8"/>
<rect x="928" y="9" width="3" height="1" fill="#a8a8a8"/>
<rect x="928" y="11" width="3" height="1" fill="#a8a8a8"/>
<rect x="928" y="13" width="3" height="1" fill="#a8a8a8"/>
<rect x="928" y="15" width="3" height="1" fill="#a8a8a8"/>
<text x="944.7" y="10.6" text-anchor="middle" font-family="'Liberation Sans', Arial, sans-serif" font-size="9.5" fill="#303030">M1</text>
<text x="972.7" y="10.6" text-anchor="middle" font-family="'Liberation Sans', Arial, sans-serif" font-size="9.5" fill="#303030">M5</text>
<text x="1001.5" y="10.6" text-anchor="middle" font-family="'Liberation Sans', Arial, sans-serif" font-size="9.5" fill="#303030">M15</text>
<text x="1029.6" y="10.6" text-anchor="middle" font-family="'Liberation Sans', Arial, sans-serif" font-size="9.5" fill="#303030">M30</text>
<text x="1057.6" y="10.6" text-anchor="middle" font-family="'Liberation Sans', Arial, sans-serif" font-size="9.5" fill="#303030">H1</text>
<rect x="1073" y="0" width="25" height="17" fill="#f6f6f6" stroke="#e0e0e0" stroke-width="1"/>
<rect x="1073" y="0" width="1" height="17" fill="#a0a0a0"/>
<text x="1084.8" y="10.6" text-anchor="middle" font-family="'Liberation Sans', Arial, sans-serif" font-size="9.5" fill="#303030">H4</text>
<text x="1113.6" y="10.6" text-anchor="middle" font-family="'Liberation Sans', Arial, sans-serif" font-size="9.5" fill="#303030">D1</text>
<text x="1142.4" y="10.6" text-anchor="middle" font-family="'Liberation Sans', Arial, sans-serif" font-size="9.5" fill="#303030">W1</text>
<text x="1168.8" y="10.6" text-anchor="middle" font-family="'Liberation Sans', Arial, sans-serif" font-size="9.5" fill="#303030">MN</text>
<rect x="1184" y="0" width="1" height="19" fill="#a0a0a0"/>
<rect x="1185" y="0" width="1" height="19" fill="#ffffff"/>
<circle cx="1654" cy="4.6" r="3.8" fill="none" stroke="#2a60c8" stroke-width="1.3"/>
<line x1="1651.2" y1="7.5" x2="1647.2" y2="11.8" stroke="#2a60c8" stroke-width="2.2"/>
<path d="M1672.5,9.5 a5.5,4.5 0 1 1 5,4 l-3,2.5 l0.5,-2.8 a5.5,4.5 0 0 1 -2.5,-3.7 z" fill="#e8e8ee" stroke="#a8a8b0" stroke-width="0.8"/>
<circle cx="1685.5" cy="5.5" r="8" fill="#dc3020"/>
<text x="1685.5" y="9.5" text-anchor="middle" font-family="'Liberation Serif', serif" font-size="12" fill="#fff">1</text>
</svg>
</body></html>
